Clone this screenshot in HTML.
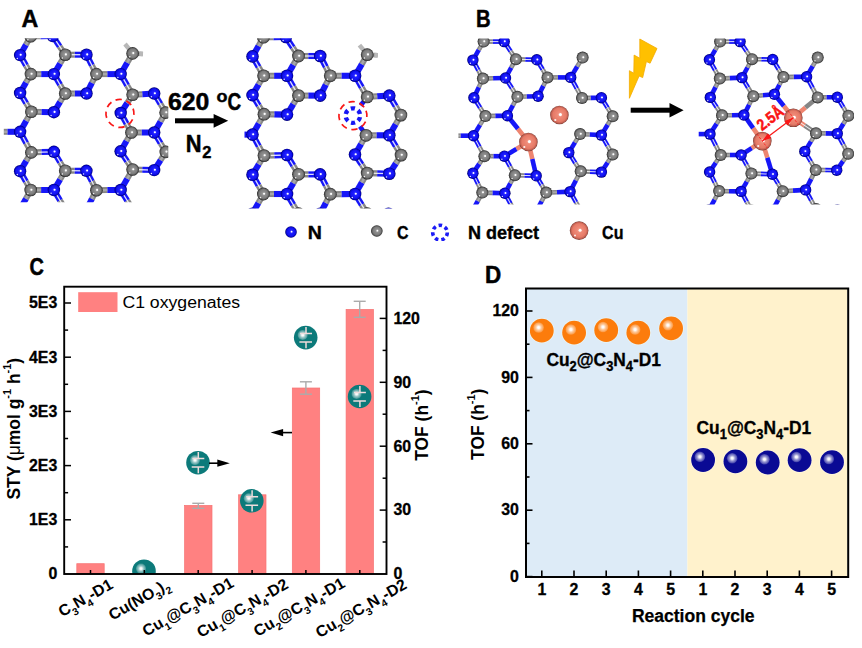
<!DOCTYPE html>
<html lang="en"><head><meta charset="utf-8"><title>Figure</title>
<style>
html,body{margin:0;padding:0;background:#fff;}
body{width:862px;height:648px;overflow:hidden;}
svg{display:block;font-family:"Liberation Sans",sans-serif;}
</style></head><body>
<svg width="862" height="648" viewBox="0 0 862 648">
<defs>

<radialGradient id="gN" cx="0.5" cy="0.5" r="0.5" fx="0.54" fy="0.47">
<stop offset="0" stop-color="#5a5aff"/><stop offset="0.3" stop-color="#2020ff"/><stop offset="0.7" stop-color="#1010f0"/><stop offset="0.88" stop-color="#0404b8"/><stop offset="1" stop-color="#000068"/>
</radialGradient>
<radialGradient id="gC" cx="0.5" cy="0.5" r="0.5" fx="0.54" fy="0.47">
<stop offset="0" stop-color="#b4b4b4"/><stop offset="0.3" stop-color="#8e8e8e"/><stop offset="0.68" stop-color="#7c7c7c"/><stop offset="0.86" stop-color="#565656"/><stop offset="1" stop-color="#1c1c1c"/>
</radialGradient>
<radialGradient id="gU" cx="0.5" cy="0.5" r="0.5" fx="0.54" fy="0.47">
<stop offset="0" stop-color="#f6a898"/><stop offset="0.3" stop-color="#ee8976"/><stop offset="0.72" stop-color="#e67a67"/><stop offset="0.9" stop-color="#be5e50"/><stop offset="1" stop-color="#70342c"/>
</radialGradient>
<filter id="soft" x="-5%" y="-5%" width="110%" height="110%"><feGaussianBlur stdDeviation="0.75"/></filter>
<filter id="softAll" x="0" y="0" width="862" height="648" filterUnits="userSpaceOnUse"><feGaussianBlur stdDeviation="0.35"/></filter>
<radialGradient id="hl" cx="0.5" cy="0.5" r="0.5">
<stop offset="0" stop-color="#fff" stop-opacity="1"/><stop offset="0.2" stop-color="#fff" stop-opacity="0.96"/><stop offset="0.5" stop-color="#fff" stop-opacity="0.6"/><stop offset="0.85" stop-color="#fff" stop-opacity="0.32"/><stop offset="1" stop-color="#fff" stop-opacity="0.2"/>
</radialGradient>
<radialGradient id="gT" cx="0.5" cy="0.5" r="0.5" fx="0.36" fy="0.36">
<stop offset="0" stop-color="#e8f4f4"/><stop offset="0.18" stop-color="#8fc4c4"/><stop offset="0.45" stop-color="#1f8a8a"/><stop offset="1" stop-color="#087070"/>
</radialGradient>
<radialGradient id="gO" cx="0.5" cy="0.5" r="0.5" fx="0.38" fy="0.34">
<stop offset="0" stop-color="#ffffff"/><stop offset="0.12" stop-color="#ffe0c0"/><stop offset="0.28" stop-color="#ff9a3c"/><stop offset="0.6" stop-color="#ff7f0e"/><stop offset="1" stop-color="#f07000"/>
</radialGradient>
<radialGradient id="gB" cx="0.5" cy="0.5" r="0.5" fx="0.38" fy="0.34">
<stop offset="0" stop-color="#ffffff"/><stop offset="0.12" stop-color="#c8c8f0"/><stop offset="0.3" stop-color="#4040b8"/><stop offset="0.6" stop-color="#10109c"/><stop offset="1" stop-color="#000080"/>
</radialGradient>
<filter id="soft2" x="-5%" y="-5%" width="110%" height="110%"><feGaussianBlur stdDeviation="0.3"/></filter>
</defs>
<rect width="862" height="648" fill="#fff"/>
<g>

<clipPath id="cp1"><rect x="3.8" y="38.2" width="164.5" height="164.1"/></clipPath>
<g clip-path="url(#cp1)"><g filter="url(#soft)">
<line x1="132.6" y1="53.4" x2="125.0" y2="44.0" stroke="#b8b8b8" stroke-width="4.4"/><line x1="132.6" y1="53.4" x2="142.79999999999998" y2="54.0" stroke="#9a9a9a" stroke-width="4.6"/><line x1="139.6" y1="53.8" x2="143.0" y2="54.0" stroke="#b8b8b8" stroke-width="4.6"/>
<g stroke-linecap="butt"><line x1="30.7" y1="36.3" x2="40.6" y2="36.2" stroke="#868686" stroke-width="6.0"/><line x1="52.8" y1="36.1" x2="40.6" y2="36.2" stroke="#1515f8" stroke-width="6.0"/><line x1="30.7" y1="36.3" x2="25.9" y2="44.8" stroke="#868686" stroke-width="6.0"/><line x1="20.1" y1="55.1" x2="25.9" y2="44.8" stroke="#1515f8" stroke-width="6.0"/><line x1="52.8" y1="36.1" x2="59.6" y2="46.3" stroke="#1515f8" stroke-width="6.0"/><line x1="65.2" y1="54.7" x2="59.6" y2="46.3" stroke="#868686" stroke-width="6.0"/><line x1="20.1" y1="55.1" x2="26.0" y2="65.5" stroke="#1515f8" stroke-width="6.0"/><line x1="30.9" y1="74.1" x2="26.0" y2="65.5" stroke="#868686" stroke-width="6.0"/><line x1="65.2" y1="54.7" x2="74.8" y2="54.7" stroke="#868686" stroke-width="6.0"/><line x1="86.5" y1="54.7" x2="74.8" y2="54.7" stroke="#1515f8" stroke-width="6.0"/><line x1="65.2" y1="54.7" x2="60.1" y2="63.4" stroke="#868686" stroke-width="6.0"/><line x1="53.9" y1="74.1" x2="60.1" y2="63.4" stroke="#1515f8" stroke-width="6.0"/><line x1="86.5" y1="54.7" x2="91.9" y2="65.4" stroke="#1515f8" stroke-width="6.0"/><line x1="96.4" y1="74.1" x2="91.9" y2="65.4" stroke="#868686" stroke-width="6.0"/><line x1="132.6" y1="53.4" x2="127.2" y2="62.7" stroke="#868686" stroke-width="6.0"/><line x1="120.7" y1="74.1" x2="127.2" y2="62.7" stroke="#1515f8" stroke-width="6.0"/><line x1="30.9" y1="74.1" x2="41.2" y2="74.1" stroke="#868686" stroke-width="6.0"/><line x1="53.9" y1="74.1" x2="41.2" y2="74.1" stroke="#1515f8" stroke-width="6.0"/><line x1="30.9" y1="74.1" x2="26.0" y2="82.6" stroke="#868686" stroke-width="6.0"/><line x1="20.1" y1="93.0" x2="26.0" y2="82.6" stroke="#1515f8" stroke-width="6.0"/><line x1="53.9" y1="74.1" x2="60.1" y2="84.8" stroke="#1515f8" stroke-width="6.0"/><line x1="65.2" y1="93.5" x2="60.1" y2="84.8" stroke="#868686" stroke-width="6.0"/><line x1="96.4" y1="74.1" x2="107.3" y2="74.1" stroke="#868686" stroke-width="6.0"/><line x1="120.7" y1="74.1" x2="107.3" y2="74.1" stroke="#1515f8" stroke-width="6.0"/><line x1="96.4" y1="74.1" x2="91.9" y2="82.8" stroke="#868686" stroke-width="6.0"/><line x1="86.5" y1="93.5" x2="91.9" y2="82.8" stroke="#1515f8" stroke-width="6.0"/><line x1="120.7" y1="74.1" x2="127.2" y2="85.5" stroke="#1515f8" stroke-width="6.0"/><line x1="132.6" y1="94.8" x2="127.2" y2="85.5" stroke="#868686" stroke-width="6.0"/><line x1="20.1" y1="93.0" x2="26.2" y2="103.3" stroke="#1515f8" stroke-width="6.0"/><line x1="31.3" y1="111.8" x2="26.2" y2="103.3" stroke="#868686" stroke-width="6.0"/><line x1="65.2" y1="93.5" x2="74.8" y2="93.5" stroke="#868686" stroke-width="6.0"/><line x1="86.5" y1="93.5" x2="74.8" y2="93.5" stroke="#1515f8" stroke-width="6.0"/><line x1="65.2" y1="93.5" x2="60.1" y2="101.9" stroke="#868686" stroke-width="6.0"/><line x1="53.9" y1="112.2" x2="60.1" y2="101.9" stroke="#1515f8" stroke-width="6.0"/><line x1="132.6" y1="94.8" x2="142.3" y2="94.2" stroke="#868686" stroke-width="6.0"/><line x1="154.2" y1="93.5" x2="142.3" y2="94.2" stroke="#1515f8" stroke-width="6.0"/><line x1="132.6" y1="94.8" x2="127.2" y2="103.0" stroke="#868686" stroke-width="6.0"/><line x1="120.7" y1="113.0" x2="127.2" y2="103.0" stroke="#1515f8" stroke-width="6.0"/><line x1="154.2" y1="93.5" x2="160.5" y2="104.0" stroke="#1515f8" stroke-width="6.0"/><line x1="165.6" y1="112.6" x2="160.5" y2="104.0" stroke="#868686" stroke-width="6.0"/><line x1="31.3" y1="111.8" x2="41.5" y2="112.0" stroke="#868686" stroke-width="6.0"/><line x1="53.9" y1="112.2" x2="41.5" y2="112.0" stroke="#1515f8" stroke-width="6.0"/><line x1="31.3" y1="111.8" x2="26.2" y2="120.8" stroke="#868686" stroke-width="6.0"/><line x1="20.1" y1="131.8" x2="26.2" y2="120.8" stroke="#1515f8" stroke-width="6.0"/><line x1="120.7" y1="113.0" x2="126.6" y2="123.7" stroke="#1515f8" stroke-width="6.0"/><line x1="131.4" y1="132.5" x2="126.6" y2="123.7" stroke="#868686" stroke-width="6.0"/><line x1="165.6" y1="112.6" x2="160.5" y2="121.6" stroke="#868686" stroke-width="6.0"/><line x1="154.2" y1="132.5" x2="160.5" y2="121.6" stroke="#1515f8" stroke-width="6.0"/><line x1="-3.0" y1="131.8" x2="7.4" y2="131.8" stroke="#868686" stroke-width="6.0"/><line x1="20.1" y1="131.8" x2="7.4" y2="131.8" stroke="#1515f8" stroke-width="6.0"/><line x1="20.1" y1="131.8" x2="26.2" y2="143.1" stroke="#1515f8" stroke-width="6.0"/><line x1="31.3" y1="152.4" x2="26.2" y2="143.1" stroke="#868686" stroke-width="6.0"/><line x1="131.4" y1="132.5" x2="141.7" y2="132.5" stroke="#868686" stroke-width="6.0"/><line x1="154.2" y1="132.5" x2="141.7" y2="132.5" stroke="#1515f8" stroke-width="6.0"/><line x1="131.4" y1="132.5" x2="126.5" y2="141.0" stroke="#868686" stroke-width="6.0"/><line x1="120.6" y1="151.3" x2="126.5" y2="141.0" stroke="#1515f8" stroke-width="6.0"/><line x1="154.2" y1="132.5" x2="160.6" y2="143.2" stroke="#1515f8" stroke-width="6.0"/><line x1="165.8" y1="151.9" x2="160.6" y2="143.2" stroke="#868686" stroke-width="6.0"/><line x1="31.3" y1="152.4" x2="41.5" y2="152.1" stroke="#868686" stroke-width="6.0"/><line x1="53.9" y1="151.8" x2="41.5" y2="152.1" stroke="#1515f8" stroke-width="6.0"/><line x1="31.3" y1="152.4" x2="26.2" y2="160.9" stroke="#868686" stroke-width="6.0"/><line x1="20.1" y1="171.2" x2="26.2" y2="160.9" stroke="#1515f8" stroke-width="6.0"/><line x1="53.9" y1="151.8" x2="60.1" y2="162.2" stroke="#1515f8" stroke-width="6.0"/><line x1="65.2" y1="170.7" x2="60.1" y2="162.2" stroke="#868686" stroke-width="6.0"/><line x1="120.6" y1="151.3" x2="127.2" y2="161.3" stroke="#1515f8" stroke-width="6.0"/><line x1="132.6" y1="169.5" x2="127.2" y2="161.3" stroke="#868686" stroke-width="6.0"/><line x1="165.8" y1="151.9" x2="160.6" y2="160.1" stroke="#868686" stroke-width="6.0"/><line x1="154.2" y1="170.1" x2="160.6" y2="160.1" stroke="#1515f8" stroke-width="6.0"/><line x1="20.1" y1="171.2" x2="25.9" y2="181.5" stroke="#1515f8" stroke-width="6.0"/><line x1="30.7" y1="190.0" x2="25.9" y2="181.5" stroke="#868686" stroke-width="6.0"/><line x1="65.2" y1="170.7" x2="74.7" y2="170.7" stroke="#868686" stroke-width="6.0"/><line x1="86.4" y1="170.8" x2="74.7" y2="170.7" stroke="#1515f8" stroke-width="6.0"/><line x1="65.2" y1="170.7" x2="60.1" y2="179.4" stroke="#868686" stroke-width="6.0"/><line x1="53.9" y1="190.0" x2="60.1" y2="179.4" stroke="#1515f8" stroke-width="6.0"/><line x1="86.4" y1="170.8" x2="91.9" y2="181.5" stroke="#1515f8" stroke-width="6.0"/><line x1="96.4" y1="190.2" x2="91.9" y2="181.5" stroke="#868686" stroke-width="6.0"/><line x1="132.6" y1="169.5" x2="142.3" y2="169.8" stroke="#868686" stroke-width="6.0"/><line x1="154.2" y1="170.1" x2="142.3" y2="169.8" stroke="#1515f8" stroke-width="6.0"/><line x1="132.6" y1="169.5" x2="127.2" y2="178.7" stroke="#868686" stroke-width="6.0"/><line x1="120.7" y1="190.0" x2="127.2" y2="178.7" stroke="#1515f8" stroke-width="6.0"/><line x1="30.7" y1="190.0" x2="41.1" y2="190.0" stroke="#868686" stroke-width="6.0"/><line x1="53.9" y1="190.0" x2="41.1" y2="190.0" stroke="#1515f8" stroke-width="6.0"/><line x1="30.7" y1="190.0" x2="25.9" y2="198.7" stroke="#868686" stroke-width="6.0"/><line x1="20.0" y1="209.3" x2="25.9" y2="198.7" stroke="#1515f8" stroke-width="6.0"/><line x1="53.9" y1="190.0" x2="60.1" y2="200.6" stroke="#1515f8" stroke-width="6.0"/><line x1="65.2" y1="209.3" x2="60.1" y2="200.6" stroke="#868686" stroke-width="6.0"/><line x1="96.4" y1="190.2" x2="107.3" y2="190.1" stroke="#868686" stroke-width="6.0"/><line x1="120.7" y1="190.0" x2="107.3" y2="190.1" stroke="#1515f8" stroke-width="6.0"/><line x1="96.4" y1="190.2" x2="91.9" y2="198.8" stroke="#868686" stroke-width="6.0"/><line x1="86.5" y1="209.3" x2="91.9" y2="198.8" stroke="#1515f8" stroke-width="6.0"/><line x1="120.7" y1="190.0" x2="127.2" y2="200.6" stroke="#1515f8" stroke-width="6.0"/><line x1="132.6" y1="209.3" x2="127.2" y2="200.6" stroke="#868686" stroke-width="6.0"/><line x1="65.2" y1="209.3" x2="74.8" y2="209.3" stroke="#868686" stroke-width="6.0"/><line x1="86.5" y1="209.3" x2="74.8" y2="209.3" stroke="#1515f8" stroke-width="6.0"/><line x1="132.6" y1="209.3" x2="142.0" y2="209.3" stroke="#868686" stroke-width="6.0"/><line x1="153.4" y1="209.3" x2="142.0" y2="209.3" stroke="#1515f8" stroke-width="6.0"/><line x1="30.7" y1="36.3" x2="40.6" y2="36.2" stroke="#a8a8a8" stroke-width="2.40"/><line x1="30.7" y1="36.3" x2="25.9" y2="44.8" stroke="#a8a8a8" stroke-width="2.40"/><line x1="65.2" y1="54.7" x2="60.1" y2="63.4" stroke="#a8a8a8" stroke-width="2.40"/><line x1="132.6" y1="53.4" x2="127.2" y2="62.7" stroke="#a8a8a8" stroke-width="2.40"/><line x1="30.9" y1="74.1" x2="41.2" y2="74.1" stroke="#a8a8a8" stroke-width="2.40"/><line x1="30.9" y1="74.1" x2="26.0" y2="82.6" stroke="#a8a8a8" stroke-width="2.40"/><line x1="96.4" y1="74.1" x2="107.3" y2="74.1" stroke="#a8a8a8" stroke-width="2.40"/><line x1="96.4" y1="74.1" x2="91.9" y2="82.8" stroke="#a8a8a8" stroke-width="2.40"/><line x1="65.2" y1="93.5" x2="74.8" y2="93.5" stroke="#a8a8a8" stroke-width="2.40"/><line x1="65.2" y1="93.5" x2="60.1" y2="101.9" stroke="#a8a8a8" stroke-width="2.40"/><line x1="132.6" y1="94.8" x2="142.3" y2="94.2" stroke="#a8a8a8" stroke-width="2.40"/><line x1="132.6" y1="94.8" x2="127.2" y2="103.0" stroke="#a8a8a8" stroke-width="2.40"/><line x1="31.3" y1="111.8" x2="41.5" y2="112.0" stroke="#a8a8a8" stroke-width="2.40"/><line x1="31.3" y1="111.8" x2="26.2" y2="120.8" stroke="#a8a8a8" stroke-width="2.40"/><line x1="165.6" y1="112.6" x2="160.5" y2="121.6" stroke="#a8a8a8" stroke-width="2.40"/><line x1="-3.0" y1="131.8" x2="7.4" y2="131.8" stroke="#a8a8a8" stroke-width="2.40"/><line x1="131.4" y1="132.5" x2="141.7" y2="132.5" stroke="#a8a8a8" stroke-width="2.40"/><line x1="131.4" y1="132.5" x2="126.5" y2="141.0" stroke="#a8a8a8" stroke-width="2.40"/><line x1="31.3" y1="152.4" x2="26.2" y2="160.9" stroke="#a8a8a8" stroke-width="2.40"/><line x1="165.8" y1="151.9" x2="160.6" y2="160.1" stroke="#a8a8a8" stroke-width="2.40"/><line x1="65.2" y1="170.7" x2="60.1" y2="179.4" stroke="#a8a8a8" stroke-width="2.40"/><line x1="132.6" y1="169.5" x2="127.2" y2="178.7" stroke="#a8a8a8" stroke-width="2.40"/><line x1="30.7" y1="190.0" x2="41.1" y2="190.0" stroke="#a8a8a8" stroke-width="2.40"/><line x1="30.7" y1="190.0" x2="25.9" y2="198.7" stroke="#a8a8a8" stroke-width="2.40"/><line x1="96.4" y1="190.2" x2="107.3" y2="190.1" stroke="#a8a8a8" stroke-width="2.40"/><line x1="96.4" y1="190.2" x2="91.9" y2="198.8" stroke="#a8a8a8" stroke-width="2.40"/><line x1="65.2" y1="209.3" x2="74.8" y2="209.3" stroke="#a8a8a8" stroke-width="2.40"/><line x1="132.6" y1="209.3" x2="142.0" y2="209.3" stroke="#a8a8a8" stroke-width="2.40"/><line x1="52.8" y1="36.1" x2="65.2" y2="54.7" stroke="#fff" stroke-width="1.32" opacity="0.85"/><line x1="20.1" y1="55.1" x2="30.9" y2="74.1" stroke="#fff" stroke-width="1.32" opacity="0.85"/><line x1="65.2" y1="54.7" x2="86.5" y2="54.7" stroke="#fff" stroke-width="1.32" opacity="0.85"/><line x1="86.5" y1="54.7" x2="96.4" y2="74.1" stroke="#fff" stroke-width="1.32" opacity="0.85"/><line x1="53.9" y1="74.1" x2="65.2" y2="93.5" stroke="#fff" stroke-width="1.32" opacity="0.85"/><line x1="120.7" y1="74.1" x2="132.6" y2="94.8" stroke="#fff" stroke-width="1.32" opacity="0.85"/><line x1="20.1" y1="93.0" x2="31.3" y2="111.8" stroke="#fff" stroke-width="1.32" opacity="0.85"/><line x1="154.2" y1="93.5" x2="165.6" y2="112.6" stroke="#fff" stroke-width="1.32" opacity="0.85"/><line x1="120.7" y1="113.0" x2="131.4" y2="132.5" stroke="#fff" stroke-width="1.32" opacity="0.85"/><line x1="20.1" y1="131.8" x2="31.3" y2="152.4" stroke="#fff" stroke-width="1.32" opacity="0.85"/><line x1="154.2" y1="132.5" x2="165.8" y2="151.9" stroke="#fff" stroke-width="1.32" opacity="0.85"/><line x1="31.3" y1="152.4" x2="53.9" y2="151.8" stroke="#fff" stroke-width="1.32" opacity="0.85"/><line x1="53.9" y1="151.8" x2="65.2" y2="170.7" stroke="#fff" stroke-width="1.32" opacity="0.85"/><line x1="120.6" y1="151.3" x2="132.6" y2="169.5" stroke="#fff" stroke-width="1.32" opacity="0.85"/><line x1="20.1" y1="171.2" x2="30.7" y2="190.0" stroke="#fff" stroke-width="1.32" opacity="0.85"/><line x1="65.2" y1="170.7" x2="86.4" y2="170.8" stroke="#fff" stroke-width="1.32" opacity="0.85"/><line x1="86.4" y1="170.8" x2="96.4" y2="190.2" stroke="#fff" stroke-width="1.32" opacity="0.85"/><line x1="132.6" y1="169.5" x2="154.2" y2="170.1" stroke="#fff" stroke-width="1.32" opacity="0.85"/><line x1="53.9" y1="190.0" x2="65.2" y2="209.3" stroke="#fff" stroke-width="1.32" opacity="0.85"/><line x1="120.7" y1="190.0" x2="132.6" y2="209.3" stroke="#fff" stroke-width="1.32" opacity="0.85"/></g>

<circle cx="30.7" cy="36.3" r="6.3" fill="url(#gC)"/>
<circle cx="31.4" cy="36.0" r="1.05" fill="#fff"/>
<circle cx="27.9" cy="39.7" r="0.75" fill="#fff" opacity="0.9"/>
<circle cx="52.8" cy="36.1" r="6.2" fill="url(#gN)"/>
<circle cx="53.5" cy="35.8" r="1.03" fill="#fff"/>
<circle cx="50.0" cy="39.4" r="0.74" fill="#fff" opacity="0.9"/>
<circle cx="20.1" cy="55.1" r="6.2" fill="url(#gN)"/>
<circle cx="20.7" cy="54.8" r="1.03" fill="#fff"/>
<circle cx="17.3" cy="58.4" r="0.74" fill="#fff" opacity="0.9"/>
<circle cx="65.2" cy="54.7" r="6.3" fill="url(#gC)"/>
<circle cx="65.9" cy="54.4" r="1.05" fill="#fff"/>
<circle cx="62.4" cy="58.1" r="0.75" fill="#fff" opacity="0.9"/>
<circle cx="86.5" cy="54.7" r="6.2" fill="url(#gN)"/>
<circle cx="87.2" cy="54.4" r="1.03" fill="#fff"/>
<circle cx="83.7" cy="58.0" r="0.74" fill="#fff" opacity="0.9"/>
<circle cx="132.6" cy="53.4" r="6.3" fill="url(#gC)"/>
<circle cx="133.3" cy="53.1" r="1.05" fill="#fff"/>
<circle cx="129.8" cy="56.8" r="0.75" fill="#fff" opacity="0.9"/>
<circle cx="30.9" cy="74.1" r="6.3" fill="url(#gC)"/>
<circle cx="31.6" cy="73.8" r="1.05" fill="#fff"/>
<circle cx="28.1" cy="77.5" r="0.75" fill="#fff" opacity="0.9"/>
<circle cx="53.9" cy="74.1" r="6.2" fill="url(#gN)"/>
<circle cx="54.6" cy="73.8" r="1.03" fill="#fff"/>
<circle cx="51.1" cy="77.4" r="0.74" fill="#fff" opacity="0.9"/>
<circle cx="96.4" cy="74.1" r="6.3" fill="url(#gC)"/>
<circle cx="97.1" cy="73.8" r="1.05" fill="#fff"/>
<circle cx="93.6" cy="77.5" r="0.75" fill="#fff" opacity="0.9"/>
<circle cx="120.7" cy="74.1" r="6.2" fill="url(#gN)"/>
<circle cx="121.4" cy="73.8" r="1.03" fill="#fff"/>
<circle cx="117.9" cy="77.4" r="0.74" fill="#fff" opacity="0.9"/>
<circle cx="20.1" cy="93.0" r="6.2" fill="url(#gN)"/>
<circle cx="20.7" cy="92.7" r="1.03" fill="#fff"/>
<circle cx="17.3" cy="96.3" r="0.74" fill="#fff" opacity="0.9"/>
<circle cx="65.2" cy="93.5" r="6.3" fill="url(#gC)"/>
<circle cx="65.9" cy="93.2" r="1.05" fill="#fff"/>
<circle cx="62.4" cy="96.9" r="0.75" fill="#fff" opacity="0.9"/>
<circle cx="86.5" cy="93.5" r="6.2" fill="url(#gN)"/>
<circle cx="87.2" cy="93.2" r="1.03" fill="#fff"/>
<circle cx="83.7" cy="96.8" r="0.74" fill="#fff" opacity="0.9"/>
<circle cx="132.6" cy="94.8" r="6.3" fill="url(#gC)"/>
<circle cx="133.3" cy="94.5" r="1.05" fill="#fff"/>
<circle cx="129.8" cy="98.2" r="0.75" fill="#fff" opacity="0.9"/>
<circle cx="154.2" cy="93.5" r="6.2" fill="url(#gN)"/>
<circle cx="154.9" cy="93.2" r="1.03" fill="#fff"/>
<circle cx="151.4" cy="96.8" r="0.74" fill="#fff" opacity="0.9"/>
<circle cx="31.3" cy="111.8" r="6.3" fill="url(#gC)"/>
<circle cx="32.0" cy="111.5" r="1.05" fill="#fff"/>
<circle cx="28.5" cy="115.2" r="0.75" fill="#fff" opacity="0.9"/>
<circle cx="53.9" cy="112.2" r="6.2" fill="url(#gN)"/>
<circle cx="54.6" cy="111.9" r="1.03" fill="#fff"/>
<circle cx="51.1" cy="115.5" r="0.74" fill="#fff" opacity="0.9"/>
<circle cx="120.7" cy="113.0" r="6.2" fill="url(#gN)"/>
<circle cx="121.4" cy="112.7" r="1.03" fill="#fff"/>
<circle cx="117.9" cy="116.3" r="0.74" fill="#fff" opacity="0.9"/>
<circle cx="165.6" cy="112.6" r="6.3" fill="url(#gC)"/>
<circle cx="166.3" cy="112.3" r="1.05" fill="#fff"/>
<circle cx="162.8" cy="116.0" r="0.75" fill="#fff" opacity="0.9"/>
<circle cx="-3.0" cy="131.8" r="6.3" fill="url(#gC)"/>
<circle cx="-2.3" cy="131.5" r="1.05" fill="#fff"/>
<circle cx="-5.8" cy="135.2" r="0.75" fill="#fff" opacity="0.9"/>
<circle cx="20.1" cy="131.8" r="6.2" fill="url(#gN)"/>
<circle cx="20.7" cy="131.5" r="1.03" fill="#fff"/>
<circle cx="17.3" cy="135.1" r="0.74" fill="#fff" opacity="0.9"/>
<circle cx="131.4" cy="132.5" r="6.3" fill="url(#gC)"/>
<circle cx="132.1" cy="132.2" r="1.05" fill="#fff"/>
<circle cx="128.6" cy="135.9" r="0.75" fill="#fff" opacity="0.9"/>
<circle cx="154.2" cy="132.5" r="6.2" fill="url(#gN)"/>
<circle cx="154.9" cy="132.2" r="1.03" fill="#fff"/>
<circle cx="151.4" cy="135.8" r="0.74" fill="#fff" opacity="0.9"/>
<circle cx="31.3" cy="152.4" r="6.3" fill="url(#gC)"/>
<circle cx="32.0" cy="152.1" r="1.05" fill="#fff"/>
<circle cx="28.5" cy="155.8" r="0.75" fill="#fff" opacity="0.9"/>
<circle cx="53.9" cy="151.8" r="6.2" fill="url(#gN)"/>
<circle cx="54.6" cy="151.5" r="1.03" fill="#fff"/>
<circle cx="51.1" cy="155.1" r="0.74" fill="#fff" opacity="0.9"/>
<circle cx="120.6" cy="151.3" r="6.2" fill="url(#gN)"/>
<circle cx="121.3" cy="151.0" r="1.03" fill="#fff"/>
<circle cx="117.8" cy="154.6" r="0.74" fill="#fff" opacity="0.9"/>
<circle cx="165.8" cy="151.9" r="6.3" fill="url(#gC)"/>
<circle cx="166.5" cy="151.6" r="1.05" fill="#fff"/>
<circle cx="163.0" cy="155.3" r="0.75" fill="#fff" opacity="0.9"/>
<circle cx="20.1" cy="171.2" r="6.2" fill="url(#gN)"/>
<circle cx="20.7" cy="170.9" r="1.03" fill="#fff"/>
<circle cx="17.3" cy="174.5" r="0.74" fill="#fff" opacity="0.9"/>
<circle cx="65.2" cy="170.7" r="6.3" fill="url(#gC)"/>
<circle cx="65.9" cy="170.4" r="1.05" fill="#fff"/>
<circle cx="62.4" cy="174.1" r="0.75" fill="#fff" opacity="0.9"/>
<circle cx="86.4" cy="170.8" r="6.2" fill="url(#gN)"/>
<circle cx="87.1" cy="170.5" r="1.03" fill="#fff"/>
<circle cx="83.6" cy="174.1" r="0.74" fill="#fff" opacity="0.9"/>
<circle cx="132.6" cy="169.5" r="6.3" fill="url(#gC)"/>
<circle cx="133.3" cy="169.2" r="1.05" fill="#fff"/>
<circle cx="129.8" cy="172.9" r="0.75" fill="#fff" opacity="0.9"/>
<circle cx="154.2" cy="170.1" r="6.2" fill="url(#gN)"/>
<circle cx="154.9" cy="169.8" r="1.03" fill="#fff"/>
<circle cx="151.4" cy="173.4" r="0.74" fill="#fff" opacity="0.9"/>
<circle cx="30.7" cy="190.0" r="6.3" fill="url(#gC)"/>
<circle cx="31.4" cy="189.7" r="1.05" fill="#fff"/>
<circle cx="27.9" cy="193.4" r="0.75" fill="#fff" opacity="0.9"/>
<circle cx="53.9" cy="190.0" r="6.2" fill="url(#gN)"/>
<circle cx="54.6" cy="189.7" r="1.03" fill="#fff"/>
<circle cx="51.1" cy="193.3" r="0.74" fill="#fff" opacity="0.9"/>
<circle cx="96.4" cy="190.2" r="6.3" fill="url(#gC)"/>
<circle cx="97.1" cy="189.9" r="1.05" fill="#fff"/>
<circle cx="93.6" cy="193.6" r="0.75" fill="#fff" opacity="0.9"/>
<circle cx="120.7" cy="190.0" r="6.2" fill="url(#gN)"/>
<circle cx="121.4" cy="189.7" r="1.03" fill="#fff"/>
<circle cx="117.9" cy="193.3" r="0.74" fill="#fff" opacity="0.9"/>
<circle cx="20.0" cy="209.3" r="6.2" fill="url(#gN)"/>
<circle cx="20.7" cy="209.0" r="1.03" fill="#fff"/>
<circle cx="17.2" cy="212.6" r="0.74" fill="#fff" opacity="0.9"/>
<circle cx="65.2" cy="209.3" r="6.3" fill="url(#gC)"/>
<circle cx="65.9" cy="209.0" r="1.05" fill="#fff"/>
<circle cx="62.4" cy="212.7" r="0.75" fill="#fff" opacity="0.9"/>
<circle cx="86.5" cy="209.3" r="6.2" fill="url(#gN)"/>
<circle cx="87.2" cy="209.0" r="1.03" fill="#fff"/>
<circle cx="83.7" cy="212.6" r="0.74" fill="#fff" opacity="0.9"/>
<circle cx="132.6" cy="209.3" r="6.3" fill="url(#gC)"/>
<circle cx="133.3" cy="209.0" r="1.05" fill="#fff"/>
<circle cx="129.8" cy="212.7" r="0.75" fill="#fff" opacity="0.9"/>
<circle cx="153.4" cy="209.3" r="6.2" fill="url(#gN)"/>
<circle cx="154.1" cy="209.0" r="1.03" fill="#fff"/>
<circle cx="150.6" cy="212.6" r="0.74" fill="#fff" opacity="0.9"/>
<circle cx="119.8" cy="113.4" r="14.0" fill="none" stroke="#f81818" stroke-width="1.7" stroke-dasharray="6.3 4.7" transform="rotate(-20 119.8 113)"/>
</g></g>
<clipPath id="cp2"><rect x="244.5" y="38.3" width="163.3" height="170.3"/></clipPath>
<g clip-path="url(#cp2)"><g filter="url(#soft)">
<line x1="367.24896" y1="54.668" x2="359.44896" y2="45.068" stroke="#b8b8b8" stroke-width="4.5"/><line x1="367.24896" y1="54.668" x2="377.64896" y2="55.268" stroke="#9a9a9a" stroke-width="4.7"/><line x1="374.44896" y1="55.068" x2="377.84896000000003" y2="55.268" stroke="#b8b8b8" stroke-width="4.7"/><line x1="367.2" y1="96.9" x2="360.7" y2="105.5" stroke="#1515f8" stroke-width="4.6"/><line x1="366.0" y1="135.3" x2="360.0" y2="126.4" stroke="#1515f8" stroke-width="4.6"/>
<g stroke-linecap="butt"><line x1="263.4" y1="37.2" x2="273.5" y2="37.1" stroke="#868686" stroke-width="6.1"/><line x1="285.9" y1="37.0" x2="273.5" y2="37.1" stroke="#1515f8" stroke-width="6.1"/><line x1="263.4" y1="37.2" x2="258.5" y2="45.9" stroke="#868686" stroke-width="6.1"/><line x1="252.5" y1="56.4" x2="258.5" y2="45.9" stroke="#1515f8" stroke-width="6.1"/><line x1="285.9" y1="37.0" x2="292.8" y2="47.5" stroke="#1515f8" stroke-width="6.1"/><line x1="298.5" y1="56.0" x2="292.8" y2="47.5" stroke="#868686" stroke-width="6.1"/><line x1="252.5" y1="56.4" x2="258.6" y2="67.1" stroke="#1515f8" stroke-width="6.1"/><line x1="263.6" y1="75.8" x2="258.6" y2="67.1" stroke="#868686" stroke-width="6.1"/><line x1="298.5" y1="56.0" x2="308.3" y2="56.0" stroke="#868686" stroke-width="6.1"/><line x1="320.2" y1="56.0" x2="308.3" y2="56.0" stroke="#1515f8" stroke-width="6.1"/><line x1="298.5" y1="56.0" x2="293.3" y2="64.9" stroke="#868686" stroke-width="6.1"/><line x1="287.0" y1="75.8" x2="293.3" y2="64.9" stroke="#1515f8" stroke-width="6.1"/><line x1="320.2" y1="56.0" x2="325.8" y2="66.9" stroke="#1515f8" stroke-width="6.1"/><line x1="330.3" y1="75.8" x2="325.8" y2="66.9" stroke="#868686" stroke-width="6.1"/><line x1="367.2" y1="54.7" x2="361.8" y2="64.2" stroke="#868686" stroke-width="6.1"/><line x1="355.1" y1="75.8" x2="361.8" y2="64.2" stroke="#1515f8" stroke-width="6.1"/><line x1="263.6" y1="75.8" x2="274.1" y2="75.8" stroke="#868686" stroke-width="6.1"/><line x1="287.0" y1="75.8" x2="274.1" y2="75.8" stroke="#1515f8" stroke-width="6.1"/><line x1="263.6" y1="75.8" x2="258.6" y2="84.5" stroke="#868686" stroke-width="6.1"/><line x1="252.5" y1="95.1" x2="258.6" y2="84.5" stroke="#1515f8" stroke-width="6.1"/><line x1="287.0" y1="75.8" x2="293.3" y2="86.7" stroke="#1515f8" stroke-width="6.1"/><line x1="298.5" y1="95.6" x2="293.3" y2="86.7" stroke="#868686" stroke-width="6.1"/><line x1="330.3" y1="75.8" x2="341.5" y2="75.8" stroke="#868686" stroke-width="6.1"/><line x1="355.1" y1="75.8" x2="341.5" y2="75.8" stroke="#1515f8" stroke-width="6.1"/><line x1="330.3" y1="75.8" x2="325.8" y2="84.7" stroke="#868686" stroke-width="6.1"/><line x1="320.2" y1="95.6" x2="325.8" y2="84.7" stroke="#1515f8" stroke-width="6.1"/><line x1="355.1" y1="75.8" x2="361.8" y2="87.4" stroke="#1515f8" stroke-width="6.1"/><line x1="367.2" y1="96.9" x2="361.8" y2="87.4" stroke="#868686" stroke-width="6.1"/><line x1="252.5" y1="95.1" x2="258.8" y2="105.6" stroke="#1515f8" stroke-width="6.1"/><line x1="264.0" y1="114.2" x2="258.8" y2="105.6" stroke="#868686" stroke-width="6.1"/><line x1="298.5" y1="95.6" x2="308.3" y2="95.6" stroke="#868686" stroke-width="6.1"/><line x1="320.2" y1="95.6" x2="308.3" y2="95.6" stroke="#1515f8" stroke-width="6.1"/><line x1="298.5" y1="95.6" x2="293.3" y2="104.2" stroke="#868686" stroke-width="6.1"/><line x1="287.0" y1="114.6" x2="293.3" y2="104.2" stroke="#1515f8" stroke-width="6.1"/><line x1="367.2" y1="96.9" x2="377.2" y2="96.3" stroke="#868686" stroke-width="6.1"/><line x1="389.3" y1="95.6" x2="377.2" y2="96.3" stroke="#1515f8" stroke-width="6.1"/><line x1="389.3" y1="95.6" x2="395.7" y2="106.3" stroke="#1515f8" stroke-width="6.1"/><line x1="400.9" y1="115.1" x2="395.7" y2="106.3" stroke="#868686" stroke-width="6.1"/><line x1="264.0" y1="114.2" x2="274.3" y2="114.4" stroke="#868686" stroke-width="6.1"/><line x1="287.0" y1="114.6" x2="274.3" y2="114.4" stroke="#1515f8" stroke-width="6.1"/><line x1="264.0" y1="114.2" x2="258.8" y2="123.4" stroke="#868686" stroke-width="6.1"/><line x1="252.5" y1="134.6" x2="258.8" y2="123.4" stroke="#1515f8" stroke-width="6.1"/><line x1="400.9" y1="115.1" x2="395.7" y2="124.2" stroke="#868686" stroke-width="6.1"/><line x1="389.3" y1="135.3" x2="395.7" y2="124.2" stroke="#1515f8" stroke-width="6.1"/><line x1="229.0" y1="134.6" x2="239.6" y2="134.6" stroke="#868686" stroke-width="6.1"/><line x1="252.5" y1="134.6" x2="239.6" y2="134.6" stroke="#1515f8" stroke-width="6.1"/><line x1="252.5" y1="134.6" x2="258.8" y2="146.2" stroke="#1515f8" stroke-width="6.1"/><line x1="264.0" y1="155.6" x2="258.8" y2="146.2" stroke="#868686" stroke-width="6.1"/><line x1="366.0" y1="135.3" x2="376.5" y2="135.3" stroke="#868686" stroke-width="6.1"/><line x1="389.3" y1="135.3" x2="376.5" y2="135.3" stroke="#1515f8" stroke-width="6.1"/><line x1="366.0" y1="135.3" x2="361.1" y2="144.0" stroke="#868686" stroke-width="6.1"/><line x1="355.0" y1="154.5" x2="361.1" y2="144.0" stroke="#1515f8" stroke-width="6.1"/><line x1="389.3" y1="135.3" x2="395.8" y2="146.2" stroke="#1515f8" stroke-width="6.1"/><line x1="401.1" y1="155.1" x2="395.8" y2="146.2" stroke="#868686" stroke-width="6.1"/><line x1="264.0" y1="155.6" x2="274.3" y2="155.4" stroke="#868686" stroke-width="6.1"/><line x1="287.0" y1="155.0" x2="274.3" y2="155.4" stroke="#1515f8" stroke-width="6.1"/><line x1="264.0" y1="155.6" x2="258.8" y2="164.3" stroke="#868686" stroke-width="6.1"/><line x1="252.5" y1="174.8" x2="258.8" y2="164.3" stroke="#1515f8" stroke-width="6.1"/><line x1="287.0" y1="155.0" x2="293.3" y2="165.6" stroke="#1515f8" stroke-width="6.1"/><line x1="298.5" y1="174.3" x2="293.3" y2="165.6" stroke="#868686" stroke-width="6.1"/><line x1="355.0" y1="154.5" x2="361.7" y2="164.7" stroke="#1515f8" stroke-width="6.1"/><line x1="367.2" y1="173.1" x2="361.7" y2="164.7" stroke="#868686" stroke-width="6.1"/><line x1="401.1" y1="155.1" x2="395.8" y2="163.5" stroke="#868686" stroke-width="6.1"/><line x1="389.3" y1="173.7" x2="395.8" y2="163.5" stroke="#1515f8" stroke-width="6.1"/><line x1="252.5" y1="174.8" x2="258.5" y2="185.4" stroke="#1515f8" stroke-width="6.1"/><line x1="263.4" y1="194.0" x2="258.5" y2="185.4" stroke="#868686" stroke-width="6.1"/><line x1="298.5" y1="174.3" x2="308.3" y2="174.4" stroke="#868686" stroke-width="6.1"/><line x1="320.1" y1="174.4" x2="308.3" y2="174.4" stroke="#1515f8" stroke-width="6.1"/><line x1="298.5" y1="174.3" x2="293.3" y2="183.2" stroke="#868686" stroke-width="6.1"/><line x1="287.0" y1="194.0" x2="293.3" y2="183.2" stroke="#1515f8" stroke-width="6.1"/><line x1="320.1" y1="174.4" x2="325.8" y2="185.3" stroke="#1515f8" stroke-width="6.1"/><line x1="330.3" y1="194.2" x2="325.8" y2="185.3" stroke="#868686" stroke-width="6.1"/><line x1="367.2" y1="173.1" x2="377.2" y2="173.4" stroke="#868686" stroke-width="6.1"/><line x1="389.3" y1="173.7" x2="377.2" y2="173.4" stroke="#1515f8" stroke-width="6.1"/><line x1="367.2" y1="173.1" x2="361.8" y2="182.5" stroke="#868686" stroke-width="6.1"/><line x1="355.1" y1="194.0" x2="361.8" y2="182.5" stroke="#1515f8" stroke-width="6.1"/><line x1="263.4" y1="194.0" x2="274.0" y2="194.0" stroke="#868686" stroke-width="6.1"/><line x1="287.0" y1="194.0" x2="274.0" y2="194.0" stroke="#1515f8" stroke-width="6.1"/><line x1="263.4" y1="194.0" x2="258.4" y2="202.9" stroke="#868686" stroke-width="6.1"/><line x1="252.4" y1="213.7" x2="258.4" y2="202.9" stroke="#1515f8" stroke-width="6.1"/><line x1="287.0" y1="194.0" x2="293.3" y2="204.8" stroke="#1515f8" stroke-width="6.1"/><line x1="298.5" y1="213.7" x2="293.3" y2="204.8" stroke="#868686" stroke-width="6.1"/><line x1="330.3" y1="194.2" x2="341.5" y2="194.1" stroke="#868686" stroke-width="6.1"/><line x1="355.1" y1="194.0" x2="341.5" y2="194.1" stroke="#1515f8" stroke-width="6.1"/><line x1="330.3" y1="194.2" x2="325.8" y2="203.0" stroke="#868686" stroke-width="6.1"/><line x1="320.2" y1="213.7" x2="325.8" y2="203.0" stroke="#1515f8" stroke-width="6.1"/><line x1="355.1" y1="194.0" x2="361.8" y2="204.8" stroke="#1515f8" stroke-width="6.1"/><line x1="367.2" y1="213.7" x2="361.8" y2="204.8" stroke="#868686" stroke-width="6.1"/><line x1="298.5" y1="213.7" x2="308.3" y2="213.7" stroke="#868686" stroke-width="6.1"/><line x1="320.2" y1="213.7" x2="308.3" y2="213.7" stroke="#1515f8" stroke-width="6.1"/><line x1="367.2" y1="213.7" x2="376.8" y2="213.7" stroke="#868686" stroke-width="6.1"/><line x1="388.5" y1="213.7" x2="376.8" y2="213.7" stroke="#1515f8" stroke-width="6.1"/><line x1="263.4" y1="37.2" x2="273.5" y2="37.1" stroke="#a8a8a8" stroke-width="2.44"/><line x1="263.4" y1="37.2" x2="258.5" y2="45.9" stroke="#a8a8a8" stroke-width="2.44"/><line x1="298.5" y1="56.0" x2="293.3" y2="64.9" stroke="#a8a8a8" stroke-width="2.44"/><line x1="367.2" y1="54.7" x2="361.8" y2="64.2" stroke="#a8a8a8" stroke-width="2.44"/><line x1="263.6" y1="75.8" x2="274.1" y2="75.8" stroke="#a8a8a8" stroke-width="2.44"/><line x1="263.6" y1="75.8" x2="258.6" y2="84.5" stroke="#a8a8a8" stroke-width="2.44"/><line x1="330.3" y1="75.8" x2="341.5" y2="75.8" stroke="#a8a8a8" stroke-width="2.44"/><line x1="330.3" y1="75.8" x2="325.8" y2="84.7" stroke="#a8a8a8" stroke-width="2.44"/><line x1="298.5" y1="95.6" x2="308.3" y2="95.6" stroke="#a8a8a8" stroke-width="2.44"/><line x1="298.5" y1="95.6" x2="293.3" y2="104.2" stroke="#a8a8a8" stroke-width="2.44"/><line x1="367.2" y1="96.9" x2="377.2" y2="96.3" stroke="#a8a8a8" stroke-width="2.44"/><line x1="264.0" y1="114.2" x2="274.3" y2="114.4" stroke="#a8a8a8" stroke-width="2.44"/><line x1="264.0" y1="114.2" x2="258.8" y2="123.4" stroke="#a8a8a8" stroke-width="2.44"/><line x1="400.9" y1="115.1" x2="395.7" y2="124.2" stroke="#a8a8a8" stroke-width="2.44"/><line x1="229.0" y1="134.6" x2="239.6" y2="134.6" stroke="#a8a8a8" stroke-width="2.44"/><line x1="366.0" y1="135.3" x2="376.5" y2="135.3" stroke="#a8a8a8" stroke-width="2.44"/><line x1="366.0" y1="135.3" x2="361.1" y2="144.0" stroke="#a8a8a8" stroke-width="2.44"/><line x1="264.0" y1="155.6" x2="258.8" y2="164.3" stroke="#a8a8a8" stroke-width="2.44"/><line x1="401.1" y1="155.1" x2="395.8" y2="163.5" stroke="#a8a8a8" stroke-width="2.44"/><line x1="298.5" y1="174.3" x2="293.3" y2="183.2" stroke="#a8a8a8" stroke-width="2.44"/><line x1="367.2" y1="173.1" x2="361.8" y2="182.5" stroke="#a8a8a8" stroke-width="2.44"/><line x1="263.4" y1="194.0" x2="274.0" y2="194.0" stroke="#a8a8a8" stroke-width="2.44"/><line x1="263.4" y1="194.0" x2="258.4" y2="202.9" stroke="#a8a8a8" stroke-width="2.44"/><line x1="330.3" y1="194.2" x2="341.5" y2="194.1" stroke="#a8a8a8" stroke-width="2.44"/><line x1="330.3" y1="194.2" x2="325.8" y2="203.0" stroke="#a8a8a8" stroke-width="2.44"/><line x1="298.5" y1="213.7" x2="308.3" y2="213.7" stroke="#a8a8a8" stroke-width="2.44"/><line x1="367.2" y1="213.7" x2="376.8" y2="213.7" stroke="#a8a8a8" stroke-width="2.44"/><line x1="285.9" y1="37.0" x2="298.5" y2="56.0" stroke="#fff" stroke-width="1.34" opacity="0.85"/><line x1="252.5" y1="56.4" x2="263.6" y2="75.8" stroke="#fff" stroke-width="1.34" opacity="0.85"/><line x1="298.5" y1="56.0" x2="320.2" y2="56.0" stroke="#fff" stroke-width="1.34" opacity="0.85"/><line x1="320.2" y1="56.0" x2="330.3" y2="75.8" stroke="#fff" stroke-width="1.34" opacity="0.85"/><line x1="287.0" y1="75.8" x2="298.5" y2="95.6" stroke="#fff" stroke-width="1.34" opacity="0.85"/><line x1="355.1" y1="75.8" x2="367.2" y2="96.9" stroke="#fff" stroke-width="1.34" opacity="0.85"/><line x1="252.5" y1="95.1" x2="264.0" y2="114.2" stroke="#fff" stroke-width="1.34" opacity="0.85"/><line x1="389.3" y1="95.6" x2="400.9" y2="115.1" stroke="#fff" stroke-width="1.34" opacity="0.85"/><line x1="252.5" y1="134.6" x2="264.0" y2="155.6" stroke="#fff" stroke-width="1.34" opacity="0.85"/><line x1="389.3" y1="135.3" x2="401.1" y2="155.1" stroke="#fff" stroke-width="1.34" opacity="0.85"/><line x1="264.0" y1="155.6" x2="287.0" y2="155.0" stroke="#fff" stroke-width="1.34" opacity="0.85"/><line x1="287.0" y1="155.0" x2="298.5" y2="174.3" stroke="#fff" stroke-width="1.34" opacity="0.85"/><line x1="355.0" y1="154.5" x2="367.2" y2="173.1" stroke="#fff" stroke-width="1.34" opacity="0.85"/><line x1="252.5" y1="174.8" x2="263.4" y2="194.0" stroke="#fff" stroke-width="1.34" opacity="0.85"/><line x1="298.5" y1="174.3" x2="320.1" y2="174.4" stroke="#fff" stroke-width="1.34" opacity="0.85"/><line x1="320.1" y1="174.4" x2="330.3" y2="194.2" stroke="#fff" stroke-width="1.34" opacity="0.85"/><line x1="367.2" y1="173.1" x2="389.3" y2="173.7" stroke="#fff" stroke-width="1.34" opacity="0.85"/><line x1="287.0" y1="194.0" x2="298.5" y2="213.7" stroke="#fff" stroke-width="1.34" opacity="0.85"/><line x1="355.1" y1="194.0" x2="367.2" y2="213.7" stroke="#fff" stroke-width="1.34" opacity="0.85"/></g>

<circle cx="263.4" cy="37.2" r="6.4" fill="url(#gC)"/>
<circle cx="264.1" cy="36.9" r="1.07" fill="#fff"/>
<circle cx="260.5" cy="40.7" r="0.76" fill="#fff" opacity="0.9"/>
<circle cx="285.9" cy="37.0" r="6.3" fill="url(#gN)"/>
<circle cx="286.6" cy="36.7" r="1.05" fill="#fff"/>
<circle cx="283.1" cy="40.4" r="0.75" fill="#fff" opacity="0.9"/>
<circle cx="252.5" cy="56.4" r="6.3" fill="url(#gN)"/>
<circle cx="253.2" cy="56.1" r="1.05" fill="#fff"/>
<circle cx="249.7" cy="59.8" r="0.75" fill="#fff" opacity="0.9"/>
<circle cx="298.5" cy="56.0" r="6.4" fill="url(#gC)"/>
<circle cx="299.2" cy="55.7" r="1.07" fill="#fff"/>
<circle cx="295.7" cy="59.4" r="0.76" fill="#fff" opacity="0.9"/>
<circle cx="320.2" cy="56.0" r="6.3" fill="url(#gN)"/>
<circle cx="320.9" cy="55.7" r="1.05" fill="#fff"/>
<circle cx="317.4" cy="59.4" r="0.75" fill="#fff" opacity="0.9"/>
<circle cx="367.2" cy="54.7" r="6.4" fill="url(#gC)"/>
<circle cx="368.0" cy="54.4" r="1.07" fill="#fff"/>
<circle cx="364.4" cy="58.1" r="0.76" fill="#fff" opacity="0.9"/>
<circle cx="263.6" cy="75.8" r="6.4" fill="url(#gC)"/>
<circle cx="264.3" cy="75.5" r="1.07" fill="#fff"/>
<circle cx="260.7" cy="79.2" r="0.76" fill="#fff" opacity="0.9"/>
<circle cx="287.0" cy="75.8" r="6.3" fill="url(#gN)"/>
<circle cx="287.7" cy="75.5" r="1.05" fill="#fff"/>
<circle cx="284.2" cy="79.2" r="0.75" fill="#fff" opacity="0.9"/>
<circle cx="330.3" cy="75.8" r="6.4" fill="url(#gC)"/>
<circle cx="331.1" cy="75.5" r="1.07" fill="#fff"/>
<circle cx="327.5" cy="79.2" r="0.76" fill="#fff" opacity="0.9"/>
<circle cx="355.1" cy="75.8" r="6.3" fill="url(#gN)"/>
<circle cx="355.8" cy="75.5" r="1.05" fill="#fff"/>
<circle cx="352.3" cy="79.2" r="0.75" fill="#fff" opacity="0.9"/>
<circle cx="252.5" cy="95.1" r="6.3" fill="url(#gN)"/>
<circle cx="253.2" cy="94.8" r="1.05" fill="#fff"/>
<circle cx="249.7" cy="98.5" r="0.75" fill="#fff" opacity="0.9"/>
<circle cx="298.5" cy="95.6" r="6.4" fill="url(#gC)"/>
<circle cx="299.2" cy="95.3" r="1.07" fill="#fff"/>
<circle cx="295.7" cy="99.0" r="0.76" fill="#fff" opacity="0.9"/>
<circle cx="320.2" cy="95.6" r="6.3" fill="url(#gN)"/>
<circle cx="320.9" cy="95.3" r="1.05" fill="#fff"/>
<circle cx="317.4" cy="99.0" r="0.75" fill="#fff" opacity="0.9"/>
<circle cx="367.2" cy="96.9" r="6.4" fill="url(#gC)"/>
<circle cx="368.0" cy="96.6" r="1.07" fill="#fff"/>
<circle cx="364.4" cy="100.3" r="0.76" fill="#fff" opacity="0.9"/>
<circle cx="389.3" cy="95.6" r="6.3" fill="url(#gN)"/>
<circle cx="390.0" cy="95.3" r="1.05" fill="#fff"/>
<circle cx="386.5" cy="99.0" r="0.75" fill="#fff" opacity="0.9"/>
<circle cx="264.0" cy="114.2" r="6.4" fill="url(#gC)"/>
<circle cx="264.7" cy="113.9" r="1.07" fill="#fff"/>
<circle cx="261.1" cy="117.7" r="0.76" fill="#fff" opacity="0.9"/>
<circle cx="287.0" cy="114.6" r="6.3" fill="url(#gN)"/>
<circle cx="287.7" cy="114.3" r="1.05" fill="#fff"/>
<circle cx="284.2" cy="118.0" r="0.75" fill="#fff" opacity="0.9"/>
<circle cx="400.9" cy="115.1" r="6.4" fill="url(#gC)"/>
<circle cx="401.6" cy="114.7" r="1.07" fill="#fff"/>
<circle cx="398.1" cy="118.5" r="0.76" fill="#fff" opacity="0.9"/>
<circle cx="229.0" cy="134.6" r="6.4" fill="url(#gC)"/>
<circle cx="229.7" cy="134.3" r="1.07" fill="#fff"/>
<circle cx="226.1" cy="138.1" r="0.76" fill="#fff" opacity="0.9"/>
<circle cx="252.5" cy="134.6" r="6.3" fill="url(#gN)"/>
<circle cx="253.2" cy="134.3" r="1.05" fill="#fff"/>
<circle cx="249.7" cy="138.0" r="0.75" fill="#fff" opacity="0.9"/>
<circle cx="366.0" cy="135.3" r="6.4" fill="url(#gC)"/>
<circle cx="366.7" cy="135.0" r="1.07" fill="#fff"/>
<circle cx="363.2" cy="138.8" r="0.76" fill="#fff" opacity="0.9"/>
<circle cx="389.3" cy="135.3" r="6.3" fill="url(#gN)"/>
<circle cx="390.0" cy="135.0" r="1.05" fill="#fff"/>
<circle cx="386.5" cy="138.8" r="0.75" fill="#fff" opacity="0.9"/>
<circle cx="264.0" cy="155.6" r="6.4" fill="url(#gC)"/>
<circle cx="264.7" cy="155.3" r="1.07" fill="#fff"/>
<circle cx="261.1" cy="159.1" r="0.76" fill="#fff" opacity="0.9"/>
<circle cx="287.0" cy="155.0" r="6.3" fill="url(#gN)"/>
<circle cx="287.7" cy="154.7" r="1.05" fill="#fff"/>
<circle cx="284.2" cy="158.4" r="0.75" fill="#fff" opacity="0.9"/>
<circle cx="355.0" cy="154.5" r="6.3" fill="url(#gN)"/>
<circle cx="355.7" cy="154.2" r="1.05" fill="#fff"/>
<circle cx="352.2" cy="157.9" r="0.75" fill="#fff" opacity="0.9"/>
<circle cx="401.1" cy="155.1" r="6.4" fill="url(#gC)"/>
<circle cx="401.8" cy="154.8" r="1.07" fill="#fff"/>
<circle cx="398.3" cy="158.6" r="0.76" fill="#fff" opacity="0.9"/>
<circle cx="252.5" cy="174.8" r="6.3" fill="url(#gN)"/>
<circle cx="253.2" cy="174.5" r="1.05" fill="#fff"/>
<circle cx="249.7" cy="178.2" r="0.75" fill="#fff" opacity="0.9"/>
<circle cx="298.5" cy="174.3" r="6.4" fill="url(#gC)"/>
<circle cx="299.2" cy="174.0" r="1.07" fill="#fff"/>
<circle cx="295.7" cy="177.8" r="0.76" fill="#fff" opacity="0.9"/>
<circle cx="320.1" cy="174.4" r="6.3" fill="url(#gN)"/>
<circle cx="320.8" cy="174.1" r="1.05" fill="#fff"/>
<circle cx="317.3" cy="177.8" r="0.75" fill="#fff" opacity="0.9"/>
<circle cx="367.2" cy="173.1" r="6.4" fill="url(#gC)"/>
<circle cx="368.0" cy="172.8" r="1.07" fill="#fff"/>
<circle cx="364.4" cy="176.5" r="0.76" fill="#fff" opacity="0.9"/>
<circle cx="389.3" cy="173.7" r="6.3" fill="url(#gN)"/>
<circle cx="390.0" cy="173.4" r="1.05" fill="#fff"/>
<circle cx="386.5" cy="177.1" r="0.75" fill="#fff" opacity="0.9"/>
<circle cx="263.4" cy="194.0" r="6.4" fill="url(#gC)"/>
<circle cx="264.1" cy="193.7" r="1.07" fill="#fff"/>
<circle cx="260.5" cy="197.5" r="0.76" fill="#fff" opacity="0.9"/>
<circle cx="287.0" cy="194.0" r="6.3" fill="url(#gN)"/>
<circle cx="287.7" cy="193.7" r="1.05" fill="#fff"/>
<circle cx="284.2" cy="197.4" r="0.75" fill="#fff" opacity="0.9"/>
<circle cx="330.3" cy="194.2" r="6.4" fill="url(#gC)"/>
<circle cx="331.1" cy="193.9" r="1.07" fill="#fff"/>
<circle cx="327.5" cy="197.7" r="0.76" fill="#fff" opacity="0.9"/>
<circle cx="355.1" cy="194.0" r="6.3" fill="url(#gN)"/>
<circle cx="355.8" cy="193.7" r="1.05" fill="#fff"/>
<circle cx="352.3" cy="197.4" r="0.75" fill="#fff" opacity="0.9"/>
<circle cx="252.4" cy="213.7" r="6.3" fill="url(#gN)"/>
<circle cx="253.1" cy="213.4" r="1.05" fill="#fff"/>
<circle cx="249.6" cy="217.1" r="0.75" fill="#fff" opacity="0.9"/>
<circle cx="298.5" cy="213.7" r="6.4" fill="url(#gC)"/>
<circle cx="299.2" cy="213.4" r="1.07" fill="#fff"/>
<circle cx="295.7" cy="217.1" r="0.76" fill="#fff" opacity="0.9"/>
<circle cx="320.2" cy="213.7" r="6.3" fill="url(#gN)"/>
<circle cx="320.9" cy="213.4" r="1.05" fill="#fff"/>
<circle cx="317.4" cy="217.1" r="0.75" fill="#fff" opacity="0.9"/>
<circle cx="367.2" cy="213.7" r="6.4" fill="url(#gC)"/>
<circle cx="368.0" cy="213.4" r="1.07" fill="#fff"/>
<circle cx="364.4" cy="217.1" r="0.76" fill="#fff" opacity="0.9"/>
<circle cx="388.5" cy="213.7" r="6.3" fill="url(#gN)"/>
<circle cx="389.2" cy="213.4" r="1.05" fill="#fff"/>
<circle cx="385.7" cy="217.1" r="0.75" fill="#fff" opacity="0.9"/>
<circle cx="352.9" cy="115.6" r="7.3" fill="none" stroke="#1818f5" stroke-width="4.3" stroke-dasharray="4.1 3.544" transform="rotate(12 352.9 115.6)"/><circle cx="352.9" cy="115.6" r="14.0" fill="none" stroke="#f81818" stroke-width="1.7" stroke-dasharray="6.3 4.7" transform="rotate(-20 352.9 115.6)"/>
</g></g>
<clipPath id="cp3"><rect x="458.4" y="38.5" width="160.4" height="166.0"/></clipPath>
<g clip-path="url(#cp3)"><g filter="url(#soft)">

<g stroke-linecap="butt"><line x1="483.6" y1="41.6" x2="492.9" y2="41.6" stroke="#868686" stroke-width="4.6"/><line x1="504.2" y1="41.6" x2="492.9" y2="41.6" stroke="#1515f8" stroke-width="4.6"/><line x1="483.6" y1="41.6" x2="478.8" y2="49.9" stroke="#868686" stroke-width="4.6"/><line x1="472.9" y1="60.1" x2="478.8" y2="49.9" stroke="#1515f8" stroke-width="4.6"/><line x1="504.2" y1="41.6" x2="510.6" y2="51.3" stroke="#1515f8" stroke-width="4.6"/><line x1="515.9" y1="59.2" x2="510.6" y2="51.3" stroke="#868686" stroke-width="4.6"/><line x1="472.9" y1="60.1" x2="478.4" y2="70.3" stroke="#1515f8" stroke-width="4.6"/><line x1="482.9" y1="78.6" x2="478.4" y2="70.3" stroke="#868686" stroke-width="4.6"/><line x1="515.9" y1="59.2" x2="525.3" y2="59.5" stroke="#868686" stroke-width="4.6"/><line x1="536.8" y1="59.8" x2="525.3" y2="59.5" stroke="#1515f8" stroke-width="4.6"/><line x1="515.9" y1="59.2" x2="511.2" y2="67.7" stroke="#868686" stroke-width="4.6"/><line x1="505.5" y1="78.0" x2="511.2" y2="67.7" stroke="#1515f8" stroke-width="4.6"/><line x1="536.8" y1="59.8" x2="542.7" y2="69.5" stroke="#1515f8" stroke-width="4.6"/><line x1="547.5" y1="77.4" x2="542.7" y2="69.5" stroke="#868686" stroke-width="4.6"/><line x1="582.6" y1="57.6" x2="577.2" y2="66.5" stroke="#868686" stroke-width="4.6"/><line x1="570.7" y1="77.4" x2="577.2" y2="66.5" stroke="#1515f8" stroke-width="4.6"/><line x1="482.9" y1="78.6" x2="493.1" y2="78.3" stroke="#868686" stroke-width="4.6"/><line x1="505.5" y1="78.0" x2="493.1" y2="78.3" stroke="#1515f8" stroke-width="4.6"/><line x1="482.9" y1="78.6" x2="478.8" y2="87.2" stroke="#868686" stroke-width="4.6"/><line x1="473.9" y1="97.7" x2="478.8" y2="87.2" stroke="#1515f8" stroke-width="4.6"/><line x1="505.5" y1="78.0" x2="512.0" y2="88.3" stroke="#1515f8" stroke-width="4.6"/><line x1="517.4" y1="96.8" x2="512.0" y2="88.3" stroke="#868686" stroke-width="4.6"/><line x1="547.5" y1="77.4" x2="557.9" y2="77.4" stroke="#868686" stroke-width="4.6"/><line x1="570.7" y1="77.4" x2="557.9" y2="77.4" stroke="#1515f8" stroke-width="4.6"/><line x1="547.5" y1="77.4" x2="543.3" y2="85.9" stroke="#868686" stroke-width="4.6"/><line x1="538.1" y1="96.2" x2="543.3" y2="85.9" stroke="#1515f8" stroke-width="4.6"/><line x1="570.7" y1="77.4" x2="576.9" y2="88.7" stroke="#1515f8" stroke-width="4.6"/><line x1="582.0" y1="98.0" x2="576.9" y2="88.7" stroke="#868686" stroke-width="4.6"/><line x1="473.9" y1="97.7" x2="480.2" y2="107.8" stroke="#1515f8" stroke-width="4.6"/><line x1="485.4" y1="116.0" x2="480.2" y2="107.8" stroke="#868686" stroke-width="4.6"/><line x1="517.4" y1="96.8" x2="526.7" y2="96.5" stroke="#868686" stroke-width="4.6"/><line x1="538.1" y1="96.2" x2="526.7" y2="96.5" stroke="#1515f8" stroke-width="4.6"/><line x1="517.4" y1="96.8" x2="512.9" y2="105.3" stroke="#868686" stroke-width="4.6"/><line x1="507.4" y1="115.7" x2="512.9" y2="105.3" stroke="#1515f8" stroke-width="4.6"/><line x1="582.0" y1="98.0" x2="590.7" y2="97.9" stroke="#868686" stroke-width="4.6"/><line x1="601.4" y1="97.7" x2="590.7" y2="97.9" stroke="#1515f8" stroke-width="4.6"/><line x1="601.4" y1="97.7" x2="607.6" y2="107.9" stroke="#1515f8" stroke-width="4.6"/><line x1="612.7" y1="116.3" x2="607.6" y2="107.9" stroke="#868686" stroke-width="4.6"/><line x1="485.4" y1="116.0" x2="495.3" y2="115.9" stroke="#868686" stroke-width="4.6"/><line x1="507.4" y1="115.7" x2="495.3" y2="115.9" stroke="#1515f8" stroke-width="4.6"/><line x1="485.4" y1="116.0" x2="480.0" y2="124.9" stroke="#868686" stroke-width="4.6"/><line x1="473.5" y1="135.7" x2="480.0" y2="124.9" stroke="#1515f8" stroke-width="4.6"/><line x1="612.7" y1="116.3" x2="607.6" y2="124.8" stroke="#868686" stroke-width="4.6"/><line x1="601.4" y1="135.1" x2="607.6" y2="124.8" stroke="#1515f8" stroke-width="4.6"/><line x1="450.0" y1="135.7" x2="460.6" y2="135.7" stroke="#868686" stroke-width="4.6"/><line x1="473.5" y1="135.7" x2="460.6" y2="135.7" stroke="#1515f8" stroke-width="4.6"/><line x1="473.5" y1="135.7" x2="479.5" y2="147.0" stroke="#1515f8" stroke-width="4.6"/><line x1="484.4" y1="156.2" x2="479.5" y2="147.0" stroke="#868686" stroke-width="4.6"/><line x1="580.1" y1="134.1" x2="589.7" y2="134.5" stroke="#868686" stroke-width="4.6"/><line x1="601.4" y1="135.1" x2="589.7" y2="134.5" stroke="#1515f8" stroke-width="4.6"/><line x1="580.1" y1="134.1" x2="575.0" y2="142.4" stroke="#868686" stroke-width="4.6"/><line x1="568.8" y1="152.6" x2="575.0" y2="142.4" stroke="#1515f8" stroke-width="4.6"/><line x1="601.4" y1="135.1" x2="607.6" y2="145.8" stroke="#1515f8" stroke-width="4.6"/><line x1="612.7" y1="154.5" x2="607.6" y2="145.8" stroke="#868686" stroke-width="4.6"/><line x1="484.4" y1="156.2" x2="493.4" y2="156.2" stroke="#868686" stroke-width="4.6"/><line x1="504.4" y1="156.2" x2="493.4" y2="156.2" stroke="#1515f8" stroke-width="4.6"/><line x1="484.4" y1="156.2" x2="479.2" y2="163.9" stroke="#868686" stroke-width="4.6"/><line x1="472.9" y1="173.3" x2="479.2" y2="163.9" stroke="#1515f8" stroke-width="4.6"/><line x1="504.4" y1="156.2" x2="510.1" y2="166.6" stroke="#1515f8" stroke-width="4.6"/><line x1="514.8" y1="175.2" x2="510.1" y2="166.6" stroke="#868686" stroke-width="4.6"/><line x1="568.8" y1="152.6" x2="575.3" y2="162.9" stroke="#1515f8" stroke-width="4.6"/><line x1="580.7" y1="171.3" x2="575.3" y2="162.9" stroke="#868686" stroke-width="4.6"/><line x1="612.7" y1="154.5" x2="607.6" y2="162.4" stroke="#868686" stroke-width="4.6"/><line x1="601.4" y1="172.1" x2="607.6" y2="162.4" stroke="#1515f8" stroke-width="4.6"/><line x1="472.9" y1="173.3" x2="478.1" y2="183.9" stroke="#1515f8" stroke-width="4.6"/><line x1="482.3" y1="192.6" x2="478.1" y2="183.9" stroke="#868686" stroke-width="4.6"/><line x1="514.8" y1="175.2" x2="524.4" y2="175.5" stroke="#868686" stroke-width="4.6"/><line x1="536.2" y1="175.8" x2="524.4" y2="175.5" stroke="#1515f8" stroke-width="4.6"/><line x1="514.8" y1="175.2" x2="510.3" y2="183.3" stroke="#868686" stroke-width="4.6"/><line x1="504.9" y1="193.3" x2="510.3" y2="183.3" stroke="#1515f8" stroke-width="4.6"/><line x1="536.2" y1="175.8" x2="541.7" y2="185.0" stroke="#1515f8" stroke-width="4.6"/><line x1="546.2" y1="192.6" x2="541.7" y2="185.0" stroke="#868686" stroke-width="4.6"/><line x1="580.7" y1="171.3" x2="590.0" y2="171.7" stroke="#868686" stroke-width="4.6"/><line x1="601.4" y1="172.1" x2="590.0" y2="171.7" stroke="#1515f8" stroke-width="4.6"/><line x1="580.7" y1="171.3" x2="575.9" y2="180.4" stroke="#868686" stroke-width="4.6"/><line x1="570.1" y1="191.6" x2="575.9" y2="180.4" stroke="#1515f8" stroke-width="4.6"/><line x1="482.3" y1="192.6" x2="492.5" y2="192.9" stroke="#868686" stroke-width="4.6"/><line x1="504.9" y1="193.3" x2="492.5" y2="192.9" stroke="#1515f8" stroke-width="4.6"/><line x1="482.3" y1="192.6" x2="477.7" y2="201.1" stroke="#868686" stroke-width="4.6"/><line x1="472.0" y1="211.5" x2="477.7" y2="201.1" stroke="#1515f8" stroke-width="4.6"/><line x1="504.9" y1="193.3" x2="510.5" y2="203.6" stroke="#1515f8" stroke-width="4.6"/><line x1="515.0" y1="212.0" x2="510.5" y2="203.6" stroke="#868686" stroke-width="4.6"/><line x1="546.2" y1="192.6" x2="557.0" y2="192.2" stroke="#868686" stroke-width="4.6"/><line x1="570.1" y1="191.6" x2="557.0" y2="192.2" stroke="#1515f8" stroke-width="4.6"/><line x1="546.2" y1="192.6" x2="541.6" y2="201.3" stroke="#868686" stroke-width="4.6"/><line x1="536.0" y1="212.0" x2="541.6" y2="201.3" stroke="#1515f8" stroke-width="4.6"/><line x1="570.1" y1="191.6" x2="576.1" y2="202.3" stroke="#1515f8" stroke-width="4.6"/><line x1="581.0" y1="211.0" x2="576.1" y2="202.3" stroke="#868686" stroke-width="4.6"/><line x1="515.0" y1="212.0" x2="524.5" y2="212.0" stroke="#868686" stroke-width="4.6"/><line x1="536.0" y1="212.0" x2="524.5" y2="212.0" stroke="#1515f8" stroke-width="4.6"/><line x1="528.4" y1="142.0" x2="517.9" y2="128.8" stroke="#ee8570" stroke-width="4.6"/><line x1="507.4" y1="115.7" x2="517.9" y2="128.8" stroke="#1515f8" stroke-width="4.6"/><line x1="528.4" y1="142.0" x2="516.4" y2="149.1" stroke="#ee8570" stroke-width="4.6"/><line x1="504.4" y1="156.2" x2="516.4" y2="149.1" stroke="#1515f8" stroke-width="4.6"/><line x1="528.4" y1="142.0" x2="532.3" y2="158.9" stroke="#ee8570" stroke-width="4.6"/><line x1="536.2" y1="175.8" x2="532.3" y2="158.9" stroke="#1515f8" stroke-width="4.6"/><line x1="483.6" y1="41.6" x2="478.8" y2="49.9" stroke="#a8a8a8" stroke-width="1.84"/><line x1="515.9" y1="59.2" x2="511.2" y2="67.7" stroke="#a8a8a8" stroke-width="1.84"/><line x1="582.6" y1="57.6" x2="577.2" y2="66.5" stroke="#a8a8a8" stroke-width="1.84"/><line x1="482.9" y1="78.6" x2="493.1" y2="78.3" stroke="#a8a8a8" stroke-width="1.84"/><line x1="482.9" y1="78.6" x2="478.8" y2="87.2" stroke="#a8a8a8" stroke-width="1.84"/><line x1="547.5" y1="77.4" x2="557.9" y2="77.4" stroke="#a8a8a8" stroke-width="1.84"/><line x1="547.5" y1="77.4" x2="543.3" y2="85.9" stroke="#a8a8a8" stroke-width="1.84"/><line x1="517.4" y1="96.8" x2="526.7" y2="96.5" stroke="#a8a8a8" stroke-width="1.84"/><line x1="517.4" y1="96.8" x2="512.9" y2="105.3" stroke="#a8a8a8" stroke-width="1.84"/><line x1="582.0" y1="98.0" x2="590.7" y2="97.9" stroke="#a8a8a8" stroke-width="1.84"/><line x1="485.4" y1="116.0" x2="495.3" y2="115.9" stroke="#a8a8a8" stroke-width="1.84"/><line x1="485.4" y1="116.0" x2="480.0" y2="124.9" stroke="#a8a8a8" stroke-width="1.84"/><line x1="612.7" y1="116.3" x2="607.6" y2="124.8" stroke="#a8a8a8" stroke-width="1.84"/><line x1="450.0" y1="135.7" x2="460.6" y2="135.7" stroke="#a8a8a8" stroke-width="1.84"/><line x1="580.1" y1="134.1" x2="589.7" y2="134.5" stroke="#a8a8a8" stroke-width="1.84"/><line x1="580.1" y1="134.1" x2="575.0" y2="142.4" stroke="#a8a8a8" stroke-width="1.84"/><line x1="484.4" y1="156.2" x2="493.4" y2="156.2" stroke="#a8a8a8" stroke-width="1.84"/><line x1="484.4" y1="156.2" x2="479.2" y2="163.9" stroke="#a8a8a8" stroke-width="1.84"/><line x1="612.7" y1="154.5" x2="607.6" y2="162.4" stroke="#a8a8a8" stroke-width="1.84"/><line x1="514.8" y1="175.2" x2="510.3" y2="183.3" stroke="#a8a8a8" stroke-width="1.84"/><line x1="580.7" y1="171.3" x2="575.9" y2="180.4" stroke="#a8a8a8" stroke-width="1.84"/><line x1="482.3" y1="192.6" x2="492.5" y2="192.9" stroke="#a8a8a8" stroke-width="1.84"/><line x1="482.3" y1="192.6" x2="477.7" y2="201.1" stroke="#a8a8a8" stroke-width="1.84"/><line x1="546.2" y1="192.6" x2="557.0" y2="192.2" stroke="#a8a8a8" stroke-width="1.84"/><line x1="546.2" y1="192.6" x2="541.6" y2="201.3" stroke="#a8a8a8" stroke-width="1.84"/><line x1="515.0" y1="212.0" x2="524.5" y2="212.0" stroke="#a8a8a8" stroke-width="1.84"/><line x1="483.6" y1="41.6" x2="504.2" y2="41.6" stroke="#fff" stroke-width="1.01" opacity="0.85"/><line x1="504.2" y1="41.6" x2="515.9" y2="59.2" stroke="#fff" stroke-width="1.01" opacity="0.85"/><line x1="472.9" y1="60.1" x2="482.9" y2="78.6" stroke="#fff" stroke-width="1.01" opacity="0.85"/><line x1="515.9" y1="59.2" x2="536.8" y2="59.8" stroke="#fff" stroke-width="1.01" opacity="0.85"/><line x1="536.8" y1="59.8" x2="547.5" y2="77.4" stroke="#fff" stroke-width="1.01" opacity="0.85"/><line x1="505.5" y1="78.0" x2="517.4" y2="96.8" stroke="#fff" stroke-width="1.01" opacity="0.85"/><line x1="570.7" y1="77.4" x2="582.0" y2="98.0" stroke="#fff" stroke-width="1.01" opacity="0.85"/><line x1="473.9" y1="97.7" x2="485.4" y2="116.0" stroke="#fff" stroke-width="1.01" opacity="0.85"/><line x1="601.4" y1="97.7" x2="612.7" y2="116.3" stroke="#fff" stroke-width="1.01" opacity="0.85"/><line x1="473.5" y1="135.7" x2="484.4" y2="156.2" stroke="#fff" stroke-width="1.01" opacity="0.85"/><line x1="601.4" y1="135.1" x2="612.7" y2="154.5" stroke="#fff" stroke-width="1.01" opacity="0.85"/><line x1="504.4" y1="156.2" x2="514.8" y2="175.2" stroke="#fff" stroke-width="1.01" opacity="0.85"/><line x1="568.8" y1="152.6" x2="580.7" y2="171.3" stroke="#fff" stroke-width="1.01" opacity="0.85"/><line x1="472.9" y1="173.3" x2="482.3" y2="192.6" stroke="#fff" stroke-width="1.01" opacity="0.85"/><line x1="514.8" y1="175.2" x2="536.2" y2="175.8" stroke="#fff" stroke-width="1.01" opacity="0.85"/><line x1="536.2" y1="175.8" x2="546.2" y2="192.6" stroke="#fff" stroke-width="1.01" opacity="0.85"/><line x1="580.7" y1="171.3" x2="601.4" y2="172.1" stroke="#fff" stroke-width="1.01" opacity="0.85"/><line x1="504.9" y1="193.3" x2="515.0" y2="212.0" stroke="#fff" stroke-width="1.01" opacity="0.85"/><line x1="570.1" y1="191.6" x2="581.0" y2="211.0" stroke="#fff" stroke-width="1.01" opacity="0.85"/></g>

<circle cx="483.6" cy="41.6" r="6.0" fill="url(#gC)"/>
<circle cx="484.3" cy="41.3" r="1.00" fill="#fff"/>
<circle cx="480.9" cy="44.8" r="0.71" fill="#fff" opacity="0.9"/>
<circle cx="504.2" cy="41.6" r="5.7" fill="url(#gN)"/>
<circle cx="504.8" cy="41.3" r="0.95" fill="#fff"/>
<circle cx="501.7" cy="44.7" r="0.68" fill="#fff" opacity="0.9"/>
<circle cx="472.9" cy="60.1" r="5.7" fill="url(#gN)"/>
<circle cx="473.5" cy="59.8" r="0.95" fill="#fff"/>
<circle cx="470.4" cy="63.2" r="0.68" fill="#fff" opacity="0.9"/>
<circle cx="515.9" cy="59.2" r="6.0" fill="url(#gC)"/>
<circle cx="516.6" cy="58.9" r="1.00" fill="#fff"/>
<circle cx="513.2" cy="62.4" r="0.71" fill="#fff" opacity="0.9"/>
<circle cx="536.8" cy="59.8" r="5.7" fill="url(#gN)"/>
<circle cx="537.4" cy="59.5" r="0.95" fill="#fff"/>
<circle cx="534.3" cy="62.9" r="0.68" fill="#fff" opacity="0.9"/>
<circle cx="582.6" cy="57.6" r="6.0" fill="url(#gC)"/>
<circle cx="583.3" cy="57.3" r="1.00" fill="#fff"/>
<circle cx="579.9" cy="60.8" r="0.71" fill="#fff" opacity="0.9"/>
<circle cx="482.9" cy="78.6" r="6.0" fill="url(#gC)"/>
<circle cx="483.6" cy="78.3" r="1.00" fill="#fff"/>
<circle cx="480.2" cy="81.8" r="0.71" fill="#fff" opacity="0.9"/>
<circle cx="505.5" cy="78.0" r="5.7" fill="url(#gN)"/>
<circle cx="506.1" cy="77.7" r="0.95" fill="#fff"/>
<circle cx="503.0" cy="81.1" r="0.68" fill="#fff" opacity="0.9"/>
<circle cx="547.5" cy="77.4" r="6.0" fill="url(#gC)"/>
<circle cx="548.2" cy="77.1" r="1.00" fill="#fff"/>
<circle cx="544.8" cy="80.6" r="0.71" fill="#fff" opacity="0.9"/>
<circle cx="570.7" cy="77.4" r="5.7" fill="url(#gN)"/>
<circle cx="571.3" cy="77.1" r="0.95" fill="#fff"/>
<circle cx="568.2" cy="80.5" r="0.68" fill="#fff" opacity="0.9"/>
<circle cx="473.9" cy="97.7" r="5.7" fill="url(#gN)"/>
<circle cx="474.5" cy="97.4" r="0.95" fill="#fff"/>
<circle cx="471.4" cy="100.8" r="0.68" fill="#fff" opacity="0.9"/>
<circle cx="517.4" cy="96.8" r="6.0" fill="url(#gC)"/>
<circle cx="518.1" cy="96.5" r="1.00" fill="#fff"/>
<circle cx="514.7" cy="100.0" r="0.71" fill="#fff" opacity="0.9"/>
<circle cx="538.1" cy="96.2" r="5.7" fill="url(#gN)"/>
<circle cx="538.7" cy="95.9" r="0.95" fill="#fff"/>
<circle cx="535.6" cy="99.3" r="0.68" fill="#fff" opacity="0.9"/>
<circle cx="582.0" cy="98.0" r="6.0" fill="url(#gC)"/>
<circle cx="582.7" cy="97.7" r="1.00" fill="#fff"/>
<circle cx="579.3" cy="101.2" r="0.71" fill="#fff" opacity="0.9"/>
<circle cx="601.4" cy="97.7" r="5.7" fill="url(#gN)"/>
<circle cx="602.0" cy="97.4" r="0.95" fill="#fff"/>
<circle cx="598.9" cy="100.8" r="0.68" fill="#fff" opacity="0.9"/>
<circle cx="485.4" cy="116.0" r="6.0" fill="url(#gC)"/>
<circle cx="486.1" cy="115.7" r="1.00" fill="#fff"/>
<circle cx="482.7" cy="119.2" r="0.71" fill="#fff" opacity="0.9"/>
<circle cx="507.4" cy="115.7" r="5.7" fill="url(#gN)"/>
<circle cx="508.0" cy="115.4" r="0.95" fill="#fff"/>
<circle cx="504.9" cy="118.8" r="0.68" fill="#fff" opacity="0.9"/>
<circle cx="612.7" cy="116.3" r="6.0" fill="url(#gC)"/>
<circle cx="613.4" cy="116.0" r="1.00" fill="#fff"/>
<circle cx="610.0" cy="119.5" r="0.71" fill="#fff" opacity="0.9"/>
<circle cx="450.0" cy="135.7" r="6.0" fill="url(#gC)"/>
<circle cx="450.7" cy="135.4" r="1.00" fill="#fff"/>
<circle cx="447.3" cy="138.9" r="0.71" fill="#fff" opacity="0.9"/>
<circle cx="473.5" cy="135.7" r="5.7" fill="url(#gN)"/>
<circle cx="474.1" cy="135.4" r="0.95" fill="#fff"/>
<circle cx="471.0" cy="138.8" r="0.68" fill="#fff" opacity="0.9"/>
<circle cx="580.1" cy="134.1" r="6.0" fill="url(#gC)"/>
<circle cx="580.8" cy="133.8" r="1.00" fill="#fff"/>
<circle cx="577.4" cy="137.3" r="0.71" fill="#fff" opacity="0.9"/>
<circle cx="601.4" cy="135.1" r="5.7" fill="url(#gN)"/>
<circle cx="602.0" cy="134.8" r="0.95" fill="#fff"/>
<circle cx="598.9" cy="138.2" r="0.68" fill="#fff" opacity="0.9"/>
<circle cx="484.4" cy="156.2" r="6.0" fill="url(#gC)"/>
<circle cx="485.1" cy="155.9" r="1.00" fill="#fff"/>
<circle cx="481.7" cy="159.4" r="0.71" fill="#fff" opacity="0.9"/>
<circle cx="504.4" cy="156.2" r="5.7" fill="url(#gN)"/>
<circle cx="505.0" cy="155.9" r="0.95" fill="#fff"/>
<circle cx="501.9" cy="159.3" r="0.68" fill="#fff" opacity="0.9"/>
<circle cx="568.8" cy="152.6" r="5.7" fill="url(#gN)"/>
<circle cx="569.4" cy="152.3" r="0.95" fill="#fff"/>
<circle cx="566.3" cy="155.7" r="0.68" fill="#fff" opacity="0.9"/>
<circle cx="612.7" cy="154.5" r="6.0" fill="url(#gC)"/>
<circle cx="613.4" cy="154.2" r="1.00" fill="#fff"/>
<circle cx="610.0" cy="157.7" r="0.71" fill="#fff" opacity="0.9"/>
<circle cx="472.9" cy="173.3" r="5.7" fill="url(#gN)"/>
<circle cx="473.5" cy="173.0" r="0.95" fill="#fff"/>
<circle cx="470.4" cy="176.4" r="0.68" fill="#fff" opacity="0.9"/>
<circle cx="514.8" cy="175.2" r="6.0" fill="url(#gC)"/>
<circle cx="515.5" cy="174.9" r="1.00" fill="#fff"/>
<circle cx="512.1" cy="178.4" r="0.71" fill="#fff" opacity="0.9"/>
<circle cx="536.2" cy="175.8" r="5.7" fill="url(#gN)"/>
<circle cx="536.8" cy="175.5" r="0.95" fill="#fff"/>
<circle cx="533.7" cy="178.9" r="0.68" fill="#fff" opacity="0.9"/>
<circle cx="580.7" cy="171.3" r="6.0" fill="url(#gC)"/>
<circle cx="581.4" cy="171.0" r="1.00" fill="#fff"/>
<circle cx="578.0" cy="174.5" r="0.71" fill="#fff" opacity="0.9"/>
<circle cx="601.4" cy="172.1" r="5.7" fill="url(#gN)"/>
<circle cx="602.0" cy="171.8" r="0.95" fill="#fff"/>
<circle cx="598.9" cy="175.2" r="0.68" fill="#fff" opacity="0.9"/>
<circle cx="482.3" cy="192.6" r="6.0" fill="url(#gC)"/>
<circle cx="483.0" cy="192.3" r="1.00" fill="#fff"/>
<circle cx="479.6" cy="195.8" r="0.71" fill="#fff" opacity="0.9"/>
<circle cx="504.9" cy="193.3" r="5.7" fill="url(#gN)"/>
<circle cx="505.5" cy="193.0" r="0.95" fill="#fff"/>
<circle cx="502.4" cy="196.4" r="0.68" fill="#fff" opacity="0.9"/>
<circle cx="546.2" cy="192.6" r="6.0" fill="url(#gC)"/>
<circle cx="546.9" cy="192.3" r="1.00" fill="#fff"/>
<circle cx="543.5" cy="195.8" r="0.71" fill="#fff" opacity="0.9"/>
<circle cx="570.1" cy="191.6" r="5.7" fill="url(#gN)"/>
<circle cx="570.7" cy="191.3" r="0.95" fill="#fff"/>
<circle cx="567.6" cy="194.7" r="0.68" fill="#fff" opacity="0.9"/>
<circle cx="472.0" cy="211.5" r="5.7" fill="url(#gN)"/>
<circle cx="472.6" cy="211.2" r="0.95" fill="#fff"/>
<circle cx="469.5" cy="214.6" r="0.68" fill="#fff" opacity="0.9"/>
<circle cx="515.0" cy="212.0" r="6.0" fill="url(#gC)"/>
<circle cx="515.7" cy="211.7" r="1.00" fill="#fff"/>
<circle cx="512.3" cy="215.2" r="0.71" fill="#fff" opacity="0.9"/>
<circle cx="536.0" cy="212.0" r="5.7" fill="url(#gN)"/>
<circle cx="536.6" cy="211.7" r="0.95" fill="#fff"/>
<circle cx="533.5" cy="215.1" r="0.68" fill="#fff" opacity="0.9"/>
<circle cx="581.0" cy="211.0" r="6.0" fill="url(#gC)"/>
<circle cx="581.7" cy="210.7" r="1.00" fill="#fff"/>
<circle cx="578.3" cy="214.2" r="0.71" fill="#fff" opacity="0.9"/>
<circle cx="559.4" cy="115.0" r="9.3" fill="url(#gU)"/>
<circle cx="560.4" cy="114.6" r="1.55" fill="#fff"/>
<circle cx="555.3" cy="120.0" r="1.11" fill="#fff" opacity="0.9"/>
<circle cx="528.4" cy="142.0" r="9.3" fill="url(#gU)"/>
<circle cx="529.4" cy="141.6" r="1.55" fill="#fff"/>
<circle cx="524.3" cy="147.0" r="1.11" fill="#fff" opacity="0.9"/>

</g></g>
<clipPath id="cp4"><rect x="698.7" y="38.5" width="155.3" height="166.0"/></clipPath>
<g clip-path="url(#cp4)"><g filter="url(#soft)">

<g stroke-linecap="butt"><line x1="720.1" y1="41.6" x2="729.1" y2="41.6" stroke="#868686" stroke-width="4.6"/><line x1="740.1" y1="41.6" x2="729.1" y2="41.6" stroke="#1515f8" stroke-width="4.6"/><line x1="720.1" y1="41.6" x2="715.3" y2="49.8" stroke="#868686" stroke-width="4.6"/><line x1="709.4" y1="59.8" x2="715.3" y2="49.8" stroke="#1515f8" stroke-width="4.6"/><line x1="740.1" y1="41.6" x2="746.6" y2="51.3" stroke="#1515f8" stroke-width="4.6"/><line x1="752.0" y1="59.2" x2="746.6" y2="51.3" stroke="#868686" stroke-width="4.6"/><line x1="709.4" y1="59.8" x2="715.1" y2="70.1" stroke="#1515f8" stroke-width="4.6"/><line x1="719.8" y1="78.6" x2="715.1" y2="70.1" stroke="#868686" stroke-width="4.6"/><line x1="752.0" y1="59.2" x2="761.3" y2="59.3" stroke="#868686" stroke-width="4.6"/><line x1="772.7" y1="59.5" x2="761.3" y2="59.3" stroke="#1515f8" stroke-width="4.6"/><line x1="752.0" y1="59.2" x2="747.5" y2="67.5" stroke="#868686" stroke-width="4.6"/><line x1="742.0" y1="77.6" x2="747.5" y2="67.5" stroke="#1515f8" stroke-width="4.6"/><line x1="772.7" y1="59.5" x2="778.6" y2="69.2" stroke="#1515f8" stroke-width="4.6"/><line x1="783.4" y1="77.1" x2="778.6" y2="69.2" stroke="#868686" stroke-width="4.6"/><line x1="817.7" y1="57.6" x2="812.7" y2="66.2" stroke="#868686" stroke-width="4.6"/><line x1="806.6" y1="76.7" x2="812.7" y2="66.2" stroke="#1515f8" stroke-width="4.6"/><line x1="719.8" y1="78.6" x2="729.8" y2="78.1" stroke="#868686" stroke-width="4.6"/><line x1="742.0" y1="77.6" x2="729.8" y2="78.1" stroke="#1515f8" stroke-width="4.6"/><line x1="719.8" y1="78.6" x2="715.5" y2="87.1" stroke="#868686" stroke-width="4.6"/><line x1="710.3" y1="97.4" x2="715.5" y2="87.1" stroke="#1515f8" stroke-width="4.6"/><line x1="742.0" y1="77.6" x2="748.2" y2="87.8" stroke="#1515f8" stroke-width="4.6"/><line x1="753.3" y1="96.2" x2="748.2" y2="87.8" stroke="#868686" stroke-width="4.6"/><line x1="783.4" y1="77.1" x2="793.8" y2="76.9" stroke="#868686" stroke-width="4.6"/><line x1="806.6" y1="76.7" x2="793.8" y2="76.9" stroke="#1515f8" stroke-width="4.6"/><line x1="783.4" y1="77.1" x2="779.4" y2="84.8" stroke="#868686" stroke-width="4.6"/><line x1="774.4" y1="94.3" x2="779.4" y2="84.8" stroke="#1515f8" stroke-width="4.6"/><line x1="806.6" y1="76.7" x2="812.7" y2="88.1" stroke="#1515f8" stroke-width="4.6"/><line x1="817.7" y1="97.4" x2="812.7" y2="88.1" stroke="#868686" stroke-width="4.6"/><line x1="710.3" y1="97.4" x2="716.7" y2="107.2" stroke="#1515f8" stroke-width="4.6"/><line x1="722.0" y1="115.3" x2="716.7" y2="107.2" stroke="#868686" stroke-width="4.6"/><line x1="753.3" y1="96.2" x2="762.8" y2="95.3" stroke="#868686" stroke-width="4.6"/><line x1="774.4" y1="94.3" x2="762.8" y2="95.3" stroke="#1515f8" stroke-width="4.6"/><line x1="753.3" y1="96.2" x2="749.1" y2="104.7" stroke="#868686" stroke-width="4.6"/><line x1="743.9" y1="115.0" x2="749.1" y2="104.7" stroke="#1515f8" stroke-width="4.6"/><line x1="817.7" y1="97.4" x2="826.5" y2="97.3" stroke="#868686" stroke-width="4.6"/><line x1="837.3" y1="97.2" x2="826.5" y2="97.3" stroke="#1515f8" stroke-width="4.6"/><line x1="837.3" y1="97.2" x2="843.4" y2="107.4" stroke="#1515f8" stroke-width="4.6"/><line x1="848.4" y1="115.7" x2="843.4" y2="107.4" stroke="#868686" stroke-width="4.6"/><line x1="722.0" y1="115.3" x2="731.9" y2="115.2" stroke="#868686" stroke-width="4.6"/><line x1="743.9" y1="115.0" x2="731.9" y2="115.2" stroke="#1515f8" stroke-width="4.6"/><line x1="722.0" y1="115.3" x2="716.6" y2="123.8" stroke="#868686" stroke-width="4.6"/><line x1="710.0" y1="134.1" x2="716.6" y2="123.8" stroke="#1515f8" stroke-width="4.6"/><line x1="848.4" y1="115.7" x2="843.4" y2="123.8" stroke="#868686" stroke-width="4.6"/><line x1="837.3" y1="133.6" x2="843.4" y2="123.8" stroke="#1515f8" stroke-width="4.6"/><line x1="686.0" y1="134.1" x2="696.8" y2="134.1" stroke="#868686" stroke-width="4.6"/><line x1="710.0" y1="134.1" x2="696.8" y2="134.1" stroke="#1515f8" stroke-width="4.6"/><line x1="710.0" y1="134.1" x2="715.9" y2="145.6" stroke="#1515f8" stroke-width="4.6"/><line x1="720.7" y1="155.0" x2="715.9" y2="145.6" stroke="#868686" stroke-width="4.6"/><line x1="816.0" y1="133.2" x2="825.6" y2="133.4" stroke="#868686" stroke-width="4.6"/><line x1="837.3" y1="133.6" x2="825.6" y2="133.4" stroke="#1515f8" stroke-width="4.6"/><line x1="816.0" y1="133.2" x2="811.0" y2="141.4" stroke="#868686" stroke-width="4.6"/><line x1="804.8" y1="151.4" x2="811.0" y2="141.4" stroke="#1515f8" stroke-width="4.6"/><line x1="837.3" y1="133.6" x2="843.3" y2="144.7" stroke="#1515f8" stroke-width="4.6"/><line x1="848.2" y1="153.7" x2="843.3" y2="144.7" stroke="#868686" stroke-width="4.6"/><line x1="720.7" y1="155.0" x2="729.9" y2="155.0" stroke="#868686" stroke-width="4.6"/><line x1="741.1" y1="155.0" x2="729.9" y2="155.0" stroke="#1515f8" stroke-width="4.6"/><line x1="720.7" y1="155.0" x2="715.7" y2="162.7" stroke="#868686" stroke-width="4.6"/><line x1="709.6" y1="172.0" x2="715.7" y2="162.7" stroke="#1515f8" stroke-width="4.6"/><line x1="741.1" y1="155.0" x2="746.8" y2="165.2" stroke="#1515f8" stroke-width="4.6"/><line x1="751.4" y1="173.5" x2="746.8" y2="165.2" stroke="#868686" stroke-width="4.6"/><line x1="804.8" y1="151.4" x2="810.8" y2="161.6" stroke="#1515f8" stroke-width="4.6"/><line x1="815.7" y1="169.9" x2="810.8" y2="161.6" stroke="#868686" stroke-width="4.6"/><line x1="848.2" y1="153.7" x2="843.0" y2="161.1" stroke="#868686" stroke-width="4.6"/><line x1="836.7" y1="170.2" x2="843.0" y2="161.1" stroke="#1515f8" stroke-width="4.6"/><line x1="709.6" y1="172.0" x2="714.8" y2="182.5" stroke="#1515f8" stroke-width="4.6"/><line x1="719.1" y1="191.1" x2="714.8" y2="182.5" stroke="#868686" stroke-width="4.6"/><line x1="751.4" y1="173.5" x2="760.9" y2="173.9" stroke="#868686" stroke-width="4.6"/><line x1="772.4" y1="174.3" x2="760.9" y2="173.9" stroke="#1515f8" stroke-width="4.6"/><line x1="751.4" y1="173.5" x2="746.8" y2="181.6" stroke="#868686" stroke-width="4.6"/><line x1="741.1" y1="191.4" x2="746.8" y2="181.6" stroke="#1515f8" stroke-width="4.6"/><line x1="772.4" y1="174.3" x2="778.1" y2="183.6" stroke="#1515f8" stroke-width="4.6"/><line x1="782.7" y1="191.2" x2="778.1" y2="183.6" stroke="#868686" stroke-width="4.6"/><line x1="815.7" y1="169.9" x2="825.2" y2="170.0" stroke="#868686" stroke-width="4.6"/><line x1="836.7" y1="170.2" x2="825.2" y2="170.0" stroke="#1515f8" stroke-width="4.6"/><line x1="815.7" y1="169.9" x2="811.2" y2="178.9" stroke="#868686" stroke-width="4.6"/><line x1="805.6" y1="189.9" x2="811.2" y2="178.9" stroke="#1515f8" stroke-width="4.6"/><line x1="719.1" y1="191.1" x2="729.0" y2="191.2" stroke="#868686" stroke-width="4.6"/><line x1="741.1" y1="191.4" x2="729.0" y2="191.2" stroke="#1515f8" stroke-width="4.6"/><line x1="719.1" y1="191.1" x2="714.6" y2="199.6" stroke="#868686" stroke-width="4.6"/><line x1="709.0" y1="210.0" x2="714.6" y2="199.6" stroke="#1515f8" stroke-width="4.6"/><line x1="741.1" y1="191.4" x2="746.8" y2="201.9" stroke="#1515f8" stroke-width="4.6"/><line x1="751.5" y1="210.5" x2="746.8" y2="201.9" stroke="#868686" stroke-width="4.6"/><line x1="782.7" y1="191.2" x2="793.0" y2="190.6" stroke="#868686" stroke-width="4.6"/><line x1="805.6" y1="189.9" x2="793.0" y2="190.6" stroke="#1515f8" stroke-width="4.6"/><line x1="782.7" y1="191.2" x2="778.1" y2="199.9" stroke="#868686" stroke-width="4.6"/><line x1="772.5" y1="210.5" x2="778.1" y2="199.9" stroke="#1515f8" stroke-width="4.6"/><line x1="805.6" y1="189.9" x2="811.3" y2="200.4" stroke="#1515f8" stroke-width="4.6"/><line x1="816.0" y1="209.0" x2="811.3" y2="200.4" stroke="#868686" stroke-width="4.6"/><line x1="751.5" y1="210.5" x2="761.0" y2="210.5" stroke="#868686" stroke-width="4.6"/><line x1="772.5" y1="210.5" x2="761.0" y2="210.5" stroke="#1515f8" stroke-width="4.6"/><line x1="816.0" y1="209.0" x2="825.6" y2="209.4" stroke="#868686" stroke-width="4.6"/><line x1="837.3" y1="210.0" x2="825.6" y2="209.4" stroke="#1515f8" stroke-width="4.6"/><line x1="762.3" y1="141.1" x2="753.1" y2="128.1" stroke="#ee8570" stroke-width="4.6"/><line x1="743.9" y1="115.0" x2="753.1" y2="128.1" stroke="#1515f8" stroke-width="4.6"/><line x1="762.3" y1="141.1" x2="751.7" y2="148.1" stroke="#ee8570" stroke-width="4.6"/><line x1="741.1" y1="155.0" x2="751.7" y2="148.1" stroke="#1515f8" stroke-width="4.6"/><line x1="762.3" y1="141.1" x2="767.3" y2="157.7" stroke="#ee8570" stroke-width="4.6"/><line x1="772.4" y1="174.3" x2="767.3" y2="157.7" stroke="#1515f8" stroke-width="4.6"/><line x1="793.3" y1="117.8" x2="783.8" y2="106.0" stroke="#ee8570" stroke-width="4.6"/><line x1="774.4" y1="94.3" x2="783.8" y2="106.0" stroke="#1515f8" stroke-width="4.6"/><line x1="793.3" y1="117.8" x2="805.5" y2="107.6" stroke="#ee8570" stroke-width="4.6"/><line x1="817.7" y1="97.4" x2="805.5" y2="107.6" stroke="#868686" stroke-width="4.6"/><line x1="793.3" y1="117.8" x2="804.6" y2="125.5" stroke="#ee8570" stroke-width="4.6"/><line x1="816.0" y1="133.2" x2="804.6" y2="125.5" stroke="#868686" stroke-width="4.6"/><line x1="720.1" y1="41.6" x2="715.3" y2="49.8" stroke="#a8a8a8" stroke-width="1.84"/><line x1="752.0" y1="59.2" x2="747.5" y2="67.5" stroke="#a8a8a8" stroke-width="1.84"/><line x1="817.7" y1="57.6" x2="812.7" y2="66.2" stroke="#a8a8a8" stroke-width="1.84"/><line x1="719.8" y1="78.6" x2="729.8" y2="78.1" stroke="#a8a8a8" stroke-width="1.84"/><line x1="719.8" y1="78.6" x2="715.5" y2="87.1" stroke="#a8a8a8" stroke-width="1.84"/><line x1="783.4" y1="77.1" x2="793.8" y2="76.9" stroke="#a8a8a8" stroke-width="1.84"/><line x1="783.4" y1="77.1" x2="779.4" y2="84.8" stroke="#a8a8a8" stroke-width="1.84"/><line x1="753.3" y1="96.2" x2="762.8" y2="95.3" stroke="#a8a8a8" stroke-width="1.84"/><line x1="753.3" y1="96.2" x2="749.1" y2="104.7" stroke="#a8a8a8" stroke-width="1.84"/><line x1="817.7" y1="97.4" x2="826.5" y2="97.3" stroke="#a8a8a8" stroke-width="1.84"/><line x1="722.0" y1="115.3" x2="731.9" y2="115.2" stroke="#a8a8a8" stroke-width="1.84"/><line x1="722.0" y1="115.3" x2="716.6" y2="123.8" stroke="#a8a8a8" stroke-width="1.84"/><line x1="848.4" y1="115.7" x2="843.4" y2="123.8" stroke="#a8a8a8" stroke-width="1.84"/><line x1="686.0" y1="134.1" x2="696.8" y2="134.1" stroke="#a8a8a8" stroke-width="1.84"/><line x1="816.0" y1="133.2" x2="825.6" y2="133.4" stroke="#a8a8a8" stroke-width="1.84"/><line x1="816.0" y1="133.2" x2="811.0" y2="141.4" stroke="#a8a8a8" stroke-width="1.84"/><line x1="720.7" y1="155.0" x2="729.9" y2="155.0" stroke="#a8a8a8" stroke-width="1.84"/><line x1="720.7" y1="155.0" x2="715.7" y2="162.7" stroke="#a8a8a8" stroke-width="1.84"/><line x1="848.2" y1="153.7" x2="843.0" y2="161.1" stroke="#a8a8a8" stroke-width="1.84"/><line x1="751.4" y1="173.5" x2="746.8" y2="181.6" stroke="#a8a8a8" stroke-width="1.84"/><line x1="815.7" y1="169.9" x2="811.2" y2="178.9" stroke="#a8a8a8" stroke-width="1.84"/><line x1="719.1" y1="191.1" x2="729.0" y2="191.2" stroke="#a8a8a8" stroke-width="1.84"/><line x1="719.1" y1="191.1" x2="714.6" y2="199.6" stroke="#a8a8a8" stroke-width="1.84"/><line x1="782.7" y1="191.2" x2="793.0" y2="190.6" stroke="#a8a8a8" stroke-width="1.84"/><line x1="782.7" y1="191.2" x2="778.1" y2="199.9" stroke="#a8a8a8" stroke-width="1.84"/><line x1="751.5" y1="210.5" x2="761.0" y2="210.5" stroke="#a8a8a8" stroke-width="1.84"/><line x1="816.0" y1="209.0" x2="825.6" y2="209.4" stroke="#a8a8a8" stroke-width="1.84"/><line x1="720.1" y1="41.6" x2="740.1" y2="41.6" stroke="#fff" stroke-width="1.01" opacity="0.85"/><line x1="740.1" y1="41.6" x2="752.0" y2="59.2" stroke="#fff" stroke-width="1.01" opacity="0.85"/><line x1="709.4" y1="59.8" x2="719.8" y2="78.6" stroke="#fff" stroke-width="1.01" opacity="0.85"/><line x1="752.0" y1="59.2" x2="772.7" y2="59.5" stroke="#fff" stroke-width="1.01" opacity="0.85"/><line x1="772.7" y1="59.5" x2="783.4" y2="77.1" stroke="#fff" stroke-width="1.01" opacity="0.85"/><line x1="742.0" y1="77.6" x2="753.3" y2="96.2" stroke="#fff" stroke-width="1.01" opacity="0.85"/><line x1="806.6" y1="76.7" x2="817.7" y2="97.4" stroke="#fff" stroke-width="1.01" opacity="0.85"/><line x1="710.3" y1="97.4" x2="722.0" y2="115.3" stroke="#fff" stroke-width="1.01" opacity="0.85"/><line x1="837.3" y1="97.2" x2="848.4" y2="115.7" stroke="#fff" stroke-width="1.01" opacity="0.85"/><line x1="710.0" y1="134.1" x2="720.7" y2="155.0" stroke="#fff" stroke-width="1.01" opacity="0.85"/><line x1="837.3" y1="133.6" x2="848.2" y2="153.7" stroke="#fff" stroke-width="1.01" opacity="0.85"/><line x1="741.1" y1="155.0" x2="751.4" y2="173.5" stroke="#fff" stroke-width="1.01" opacity="0.85"/><line x1="804.8" y1="151.4" x2="815.7" y2="169.9" stroke="#fff" stroke-width="1.01" opacity="0.85"/><line x1="709.6" y1="172.0" x2="719.1" y2="191.1" stroke="#fff" stroke-width="1.01" opacity="0.85"/><line x1="751.4" y1="173.5" x2="772.4" y2="174.3" stroke="#fff" stroke-width="1.01" opacity="0.85"/><line x1="772.4" y1="174.3" x2="782.7" y2="191.2" stroke="#fff" stroke-width="1.01" opacity="0.85"/><line x1="815.7" y1="169.9" x2="836.7" y2="170.2" stroke="#fff" stroke-width="1.01" opacity="0.85"/><line x1="741.1" y1="191.4" x2="751.5" y2="210.5" stroke="#fff" stroke-width="1.01" opacity="0.85"/><line x1="805.6" y1="189.9" x2="816.0" y2="209.0" stroke="#fff" stroke-width="1.01" opacity="0.85"/><line x1="793.3" y1="117.8" x2="816.0" y2="133.2" stroke="#fff" stroke-width="1.01" opacity="0.85"/></g>

<circle cx="720.1" cy="41.6" r="6.0" fill="url(#gC)"/>
<circle cx="720.8" cy="41.3" r="1.00" fill="#fff"/>
<circle cx="717.4" cy="44.8" r="0.71" fill="#fff" opacity="0.9"/>
<circle cx="740.1" cy="41.6" r="5.7" fill="url(#gN)"/>
<circle cx="740.7" cy="41.3" r="0.95" fill="#fff"/>
<circle cx="737.6" cy="44.7" r="0.68" fill="#fff" opacity="0.9"/>
<circle cx="709.4" cy="59.8" r="5.7" fill="url(#gN)"/>
<circle cx="710.0" cy="59.5" r="0.95" fill="#fff"/>
<circle cx="706.9" cy="62.9" r="0.68" fill="#fff" opacity="0.9"/>
<circle cx="752.0" cy="59.2" r="6.0" fill="url(#gC)"/>
<circle cx="752.7" cy="58.9" r="1.00" fill="#fff"/>
<circle cx="749.3" cy="62.4" r="0.71" fill="#fff" opacity="0.9"/>
<circle cx="772.7" cy="59.5" r="5.7" fill="url(#gN)"/>
<circle cx="773.3" cy="59.2" r="0.95" fill="#fff"/>
<circle cx="770.2" cy="62.6" r="0.68" fill="#fff" opacity="0.9"/>
<circle cx="817.7" cy="57.6" r="6.0" fill="url(#gC)"/>
<circle cx="818.4" cy="57.3" r="1.00" fill="#fff"/>
<circle cx="815.0" cy="60.8" r="0.71" fill="#fff" opacity="0.9"/>
<circle cx="719.8" cy="78.6" r="6.0" fill="url(#gC)"/>
<circle cx="720.5" cy="78.3" r="1.00" fill="#fff"/>
<circle cx="717.1" cy="81.8" r="0.71" fill="#fff" opacity="0.9"/>
<circle cx="742.0" cy="77.6" r="5.7" fill="url(#gN)"/>
<circle cx="742.6" cy="77.3" r="0.95" fill="#fff"/>
<circle cx="739.5" cy="80.7" r="0.68" fill="#fff" opacity="0.9"/>
<circle cx="783.4" cy="77.1" r="6.0" fill="url(#gC)"/>
<circle cx="784.1" cy="76.8" r="1.00" fill="#fff"/>
<circle cx="780.7" cy="80.3" r="0.71" fill="#fff" opacity="0.9"/>
<circle cx="806.6" cy="76.7" r="5.7" fill="url(#gN)"/>
<circle cx="807.2" cy="76.4" r="0.95" fill="#fff"/>
<circle cx="804.1" cy="79.8" r="0.68" fill="#fff" opacity="0.9"/>
<circle cx="710.3" cy="97.4" r="5.7" fill="url(#gN)"/>
<circle cx="710.9" cy="97.1" r="0.95" fill="#fff"/>
<circle cx="707.8" cy="100.5" r="0.68" fill="#fff" opacity="0.9"/>
<circle cx="753.3" cy="96.2" r="6.0" fill="url(#gC)"/>
<circle cx="754.0" cy="95.9" r="1.00" fill="#fff"/>
<circle cx="750.6" cy="99.4" r="0.71" fill="#fff" opacity="0.9"/>
<circle cx="774.4" cy="94.3" r="5.7" fill="url(#gN)"/>
<circle cx="775.0" cy="94.0" r="0.95" fill="#fff"/>
<circle cx="771.9" cy="97.4" r="0.68" fill="#fff" opacity="0.9"/>
<circle cx="817.7" cy="97.4" r="6.0" fill="url(#gC)"/>
<circle cx="818.4" cy="97.1" r="1.00" fill="#fff"/>
<circle cx="815.0" cy="100.6" r="0.71" fill="#fff" opacity="0.9"/>
<circle cx="837.3" cy="97.2" r="5.7" fill="url(#gN)"/>
<circle cx="837.9" cy="96.9" r="0.95" fill="#fff"/>
<circle cx="834.8" cy="100.3" r="0.68" fill="#fff" opacity="0.9"/>
<circle cx="722.0" cy="115.3" r="6.0" fill="url(#gC)"/>
<circle cx="722.7" cy="115.0" r="1.00" fill="#fff"/>
<circle cx="719.3" cy="118.5" r="0.71" fill="#fff" opacity="0.9"/>
<circle cx="743.9" cy="115.0" r="5.7" fill="url(#gN)"/>
<circle cx="744.5" cy="114.7" r="0.95" fill="#fff"/>
<circle cx="741.4" cy="118.1" r="0.68" fill="#fff" opacity="0.9"/>
<circle cx="848.4" cy="115.7" r="6.0" fill="url(#gC)"/>
<circle cx="849.1" cy="115.4" r="1.00" fill="#fff"/>
<circle cx="845.7" cy="118.9" r="0.71" fill="#fff" opacity="0.9"/>
<circle cx="686.0" cy="134.1" r="6.0" fill="url(#gC)"/>
<circle cx="686.7" cy="133.8" r="1.00" fill="#fff"/>
<circle cx="683.3" cy="137.3" r="0.71" fill="#fff" opacity="0.9"/>
<circle cx="710.0" cy="134.1" r="5.7" fill="url(#gN)"/>
<circle cx="710.6" cy="133.8" r="0.95" fill="#fff"/>
<circle cx="707.5" cy="137.2" r="0.68" fill="#fff" opacity="0.9"/>
<circle cx="816.0" cy="133.2" r="6.0" fill="url(#gC)"/>
<circle cx="816.7" cy="132.9" r="1.00" fill="#fff"/>
<circle cx="813.3" cy="136.4" r="0.71" fill="#fff" opacity="0.9"/>
<circle cx="837.3" cy="133.6" r="5.7" fill="url(#gN)"/>
<circle cx="837.9" cy="133.3" r="0.95" fill="#fff"/>
<circle cx="834.8" cy="136.7" r="0.68" fill="#fff" opacity="0.9"/>
<circle cx="720.7" cy="155.0" r="6.0" fill="url(#gC)"/>
<circle cx="721.4" cy="154.7" r="1.00" fill="#fff"/>
<circle cx="718.0" cy="158.2" r="0.71" fill="#fff" opacity="0.9"/>
<circle cx="741.1" cy="155.0" r="5.7" fill="url(#gN)"/>
<circle cx="741.7" cy="154.7" r="0.95" fill="#fff"/>
<circle cx="738.6" cy="158.1" r="0.68" fill="#fff" opacity="0.9"/>
<circle cx="804.8" cy="151.4" r="5.7" fill="url(#gN)"/>
<circle cx="805.4" cy="151.1" r="0.95" fill="#fff"/>
<circle cx="802.3" cy="154.5" r="0.68" fill="#fff" opacity="0.9"/>
<circle cx="848.2" cy="153.7" r="6.0" fill="url(#gC)"/>
<circle cx="848.9" cy="153.4" r="1.00" fill="#fff"/>
<circle cx="845.5" cy="156.9" r="0.71" fill="#fff" opacity="0.9"/>
<circle cx="709.6" cy="172.0" r="5.7" fill="url(#gN)"/>
<circle cx="710.2" cy="171.7" r="0.95" fill="#fff"/>
<circle cx="707.1" cy="175.1" r="0.68" fill="#fff" opacity="0.9"/>
<circle cx="751.4" cy="173.5" r="6.0" fill="url(#gC)"/>
<circle cx="752.1" cy="173.2" r="1.00" fill="#fff"/>
<circle cx="748.7" cy="176.7" r="0.71" fill="#fff" opacity="0.9"/>
<circle cx="772.4" cy="174.3" r="5.7" fill="url(#gN)"/>
<circle cx="773.0" cy="174.0" r="0.95" fill="#fff"/>
<circle cx="769.9" cy="177.4" r="0.68" fill="#fff" opacity="0.9"/>
<circle cx="815.7" cy="169.9" r="6.0" fill="url(#gC)"/>
<circle cx="816.4" cy="169.6" r="1.00" fill="#fff"/>
<circle cx="813.0" cy="173.1" r="0.71" fill="#fff" opacity="0.9"/>
<circle cx="836.7" cy="170.2" r="5.7" fill="url(#gN)"/>
<circle cx="837.3" cy="169.9" r="0.95" fill="#fff"/>
<circle cx="834.2" cy="173.3" r="0.68" fill="#fff" opacity="0.9"/>
<circle cx="719.1" cy="191.1" r="6.0" fill="url(#gC)"/>
<circle cx="719.8" cy="190.8" r="1.00" fill="#fff"/>
<circle cx="716.4" cy="194.3" r="0.71" fill="#fff" opacity="0.9"/>
<circle cx="741.1" cy="191.4" r="5.7" fill="url(#gN)"/>
<circle cx="741.7" cy="191.1" r="0.95" fill="#fff"/>
<circle cx="738.6" cy="194.5" r="0.68" fill="#fff" opacity="0.9"/>
<circle cx="782.7" cy="191.2" r="6.0" fill="url(#gC)"/>
<circle cx="783.4" cy="190.9" r="1.00" fill="#fff"/>
<circle cx="780.0" cy="194.4" r="0.71" fill="#fff" opacity="0.9"/>
<circle cx="805.6" cy="189.9" r="5.7" fill="url(#gN)"/>
<circle cx="806.2" cy="189.6" r="0.95" fill="#fff"/>
<circle cx="803.1" cy="193.0" r="0.68" fill="#fff" opacity="0.9"/>
<circle cx="709.0" cy="210.0" r="5.7" fill="url(#gN)"/>
<circle cx="709.6" cy="209.7" r="0.95" fill="#fff"/>
<circle cx="706.5" cy="213.1" r="0.68" fill="#fff" opacity="0.9"/>
<circle cx="751.5" cy="210.5" r="6.0" fill="url(#gC)"/>
<circle cx="752.2" cy="210.2" r="1.00" fill="#fff"/>
<circle cx="748.8" cy="213.7" r="0.71" fill="#fff" opacity="0.9"/>
<circle cx="772.5" cy="210.5" r="5.7" fill="url(#gN)"/>
<circle cx="773.1" cy="210.2" r="0.95" fill="#fff"/>
<circle cx="770.0" cy="213.6" r="0.68" fill="#fff" opacity="0.9"/>
<circle cx="816.0" cy="209.0" r="6.0" fill="url(#gC)"/>
<circle cx="816.7" cy="208.7" r="1.00" fill="#fff"/>
<circle cx="813.3" cy="212.2" r="0.71" fill="#fff" opacity="0.9"/>
<circle cx="837.3" cy="210.0" r="5.7" fill="url(#gN)"/>
<circle cx="837.9" cy="209.7" r="0.95" fill="#fff"/>
<circle cx="834.8" cy="213.1" r="0.68" fill="#fff" opacity="0.9"/>
<circle cx="793.3" cy="117.8" r="9.3" fill="url(#gU)"/>
<circle cx="794.3" cy="117.4" r="1.55" fill="#fff"/>
<circle cx="789.2" cy="122.8" r="1.11" fill="#fff" opacity="0.9"/>
<circle cx="762.3" cy="141.1" r="9.3" fill="url(#gU)"/>
<circle cx="763.3" cy="140.7" r="1.55" fill="#fff"/>
<circle cx="758.2" cy="146.1" r="1.11" fill="#fff" opacity="0.9"/>
<g stroke="#fa1414" fill="#fa1414"><line x1="762.3" y1="141.1" x2="793.3" y2="117.8" stroke-width="1.2"/><polygon points="762.7,140.8 771.3,138.0 767.8,133.3" stroke="none"/><polygon points="792.9,118.1 784.3,120.9 787.8,125.6" stroke="none"/><line x1="787.9" y1="110.6" x2="798.7" y2="125.0" stroke-width="0.8" stroke-dasharray="2.4 1.6"/><line x1="756.9" y1="133.9" x2="767.7" y2="148.3" stroke-width="0.8" stroke-dasharray="2.4 1.6"/></g>
</g></g>
<text transform="translate(762.0,131.2) rotate(-36.9)" font-size="16.2" font-weight="bold" fill="#fa1414" stroke="#fa1414" stroke-width="0.5" textLength="28.8" lengthAdjust="spacingAndGlyphs">2.5Å</text>
<text x="21.5" y="26.9" font-size="24.4" font-weight="bold" text-anchor="start" fill="#000" textLength="16.8" lengthAdjust="spacingAndGlyphs" stroke="#000" stroke-width="0.5" stroke-linejoin="round">A</text>
<text x="475.9" y="26.9" font-size="23.9" font-weight="bold" text-anchor="start" fill="#000" textLength="14.6" lengthAdjust="spacingAndGlyphs" stroke="#000" stroke-width="0.5" stroke-linejoin="round">B</text>
<text x="29.6" y="275.2" font-size="23.3" font-weight="bold" text-anchor="start" fill="#000" textLength="14.4" lengthAdjust="spacingAndGlyphs" stroke="#000" stroke-width="0.5" stroke-linejoin="round">C</text>
<text x="485.1" y="283.0" font-size="23.3" font-weight="bold" text-anchor="start" fill="#000" textLength="16.2" lengthAdjust="spacingAndGlyphs" stroke="#000" stroke-width="0.5" stroke-linejoin="round">D</text>
<text x="168.0" y="109.9" font-size="24.3" font-weight="bold" text-anchor="start" fill="#000" textLength="41.3" lengthAdjust="spacingAndGlyphs" stroke="#000" stroke-width="0.5" stroke-linejoin="round">620</text>
<text x="216.5" y="102.0" font-size="16.5" font-weight="bold" text-anchor="start" fill="#000" textLength="11.0" lengthAdjust="spacingAndGlyphs" stroke="#000" stroke-width="0.4" stroke-linejoin="round">o</text>
<text x="227.6" y="109.9" font-size="24.0" font-weight="bold" text-anchor="start" fill="#000" textLength="13.7" lengthAdjust="spacingAndGlyphs" stroke="#000" stroke-width="0.5" stroke-linejoin="round">C</text>
<rect x="175" y="118.3" width="39.5" height="5" fill="#000"/><polygon points="213.6,113.9 228.2,120.8 213.6,127.8" fill="#000"/>
<text x="185.8" y="151.8" font-size="24.0" font-weight="bold" text-anchor="start" fill="#000" textLength="15.8" lengthAdjust="spacingAndGlyphs" stroke="#000" stroke-width="0.5" stroke-linejoin="round">N</text>
<text x="202.2" y="158.3" font-size="15.6" font-weight="bold" text-anchor="start" fill="#000" textLength="9.2" lengthAdjust="spacingAndGlyphs" stroke="#000" stroke-width="0.4" stroke-linejoin="round">2</text>
<polygon points="639.8,39 657,48.5 650.1,63.2 646.4,61.6 642.7,77.6 639.1,76 629.4,98.3 629.4,70.7 633.8,73.2 634.1,55.1 639.8,58.2" fill="#ffc000" stroke="#f2ab00" stroke-width="0.8" stroke-linejoin="miter"/>
<rect x="630.7" y="107.7" width="39.5" height="5" fill="#000"/><polygon points="669.5,102.9 683.6,110.2 669.5,117.5" fill="#000"/>
<g filter="url(#soft)">
<circle cx="291.0" cy="232.0" r="5.8" fill="url(#gN)"/><circle cx="291.6" cy="231.7" r="0.9" fill="#fff"/>
<circle cx="376.8" cy="231.0" r="5.8" fill="url(#gC)"/><circle cx="377.4" cy="230.7" r="0.9" fill="#fff"/>
<circle cx="440.0" cy="232.6" r="7.3" fill="none" stroke="#1a1af5" stroke-width="3.6" stroke-dasharray="3.5 3.053"/>
<circle cx="579.1" cy="230.6" r="9.3" fill="url(#gU)"/><circle cx="580.1" cy="230.2" r="1.5" fill="#fff"/><circle cx="575.0" cy="235.6" r="1.0" fill="#fff" opacity="0.9"/>
</g>
<text x="307.8" y="239.2" font-size="19.2" font-weight="bold" text-anchor="start" fill="#000" textLength="14.1" lengthAdjust="spacingAndGlyphs" stroke="#000" stroke-width="0.4" stroke-linejoin="round">N</text>
<text x="397.0" y="239.2" font-size="19.2" font-weight="bold" text-anchor="start" fill="#000" textLength="11.5" lengthAdjust="spacingAndGlyphs" stroke="#000" stroke-width="0.4" stroke-linejoin="round">C</text>
<text x="467.9" y="239.2" font-size="19.2" font-weight="bold" text-anchor="start" fill="#000" textLength="71.2" lengthAdjust="spacingAndGlyphs" stroke="#000" stroke-width="0.4" stroke-linejoin="round">N defect</text>
<text x="602.1" y="239.2" font-size="19.2" font-weight="bold" text-anchor="start" fill="#000" textLength="21.3" lengthAdjust="spacingAndGlyphs" stroke="#000" stroke-width="0.4" stroke-linejoin="round">Cu</text>
<g>
<rect x="76.8" y="563.7" width="27.4" height="10.3" fill="#ff8181" stroke="#f67272" stroke-width="0.7"/>
<rect x="184.6" y="505.4" width="27.4" height="68.6" fill="#ff8181" stroke="#f67272" stroke-width="0.7"/>
<rect x="238.6" y="494.8" width="27.4" height="79.2" fill="#ff8181" stroke="#f67272" stroke-width="0.7"/>
<rect x="292.3" y="388.0" width="27.4" height="186.0" fill="#ff8181" stroke="#f67272" stroke-width="0.7"/>
<rect x="346.1" y="309.4" width="27.4" height="264.6" fill="#ff8181" stroke="#f67272" stroke-width="0.7"/>
<g stroke="#ababab" stroke-width="1.4" fill="none"><line x1="198.3" y1="503.3" x2="198.3" y2="508.3"/><line x1="192.3" y1="503.3" x2="204.3" y2="503.3"/><line x1="192.3" y1="508.3" x2="204.3" y2="508.3"/></g>
<g stroke="#ababab" stroke-width="1.4" fill="none"><line x1="305.9" y1="381.8" x2="305.9" y2="394.2"/><line x1="299.9" y1="381.8" x2="311.9" y2="381.8"/><line x1="299.9" y1="394.2" x2="311.9" y2="394.2"/></g>
<g stroke="#ababab" stroke-width="1.4" fill="none"><line x1="359.7" y1="301.3" x2="359.7" y2="317.3"/><line x1="353.7" y1="301.3" x2="365.7" y2="301.3"/><line x1="353.7" y1="317.3" x2="365.7" y2="317.3"/></g>
<clipPath id="cpC"><rect x="64.2" y="286.7" width="322.3" height="287.3"/></clipPath>
<g clip-path="url(#cpC)">
<circle cx="144.0" cy="571.2" r="11.8" fill="#0c7a7a"/><circle cx="141.0" cy="568.6" r="5.0" fill="url(#hl)"/>
<circle cx="198.0" cy="462.7" r="11.8" fill="#0c7a7a"/><circle cx="195.0" cy="460.1" r="5.0" fill="url(#hl)"/>
<g stroke="#efdcdc" stroke-width="1.5" fill="none"><line x1="198.3" y1="452.1" x2="198.3" y2="458.6"/><line x1="192.4" y1="458.6" x2="204.3" y2="458.6"/><line x1="191.7" y1="467.1" x2="204.3" y2="467.1"/><line x1="198.3" y1="467.1" x2="198.3" y2="473.3"/></g>
<circle cx="251.8" cy="500.8" r="11.8" fill="#0c7a7a"/><circle cx="248.8" cy="498.2" r="5.0" fill="url(#hl)"/>
<g stroke="#efdcdc" stroke-width="1.5" fill="none"><line x1="252.1" y1="490.2" x2="252.1" y2="496.7"/><line x1="246.2" y1="496.7" x2="258.1" y2="496.7"/><line x1="245.5" y1="505.2" x2="258.1" y2="505.2"/><line x1="252.1" y1="505.2" x2="252.1" y2="511.4"/></g>
<circle cx="305.7" cy="337.6" r="11.8" fill="#0c7a7a"/><circle cx="302.7" cy="335.0" r="5.0" fill="url(#hl)"/>
<g stroke="#efdcdc" stroke-width="1.5" fill="none"><line x1="306.0" y1="327.0" x2="306.0" y2="333.5"/><line x1="300.1" y1="333.5" x2="312.0" y2="333.5"/><line x1="299.4" y1="342.0" x2="312.0" y2="342.0"/><line x1="306.0" y1="342.0" x2="306.0" y2="348.2"/></g>
<circle cx="359.6" cy="396.5" r="11.8" fill="#0c7a7a"/><circle cx="356.6" cy="393.9" r="5.0" fill="url(#hl)"/>
<g stroke="#efdcdc" stroke-width="1.5" fill="none"><line x1="359.9" y1="385.9" x2="359.9" y2="392.4"/><line x1="354.0" y1="392.4" x2="365.9" y2="392.4"/><line x1="353.3" y1="400.9" x2="365.9" y2="400.9"/><line x1="359.9" y1="400.9" x2="359.9" y2="407.1"/></g>
</g>
<rect x="78.2" y="292.2" width="39.3" height="19.8" fill="#ff8181"/>
<text x="122.4" y="307.8" font-size="17.3" font-weight="normal" text-anchor="start" fill="#000" textLength="117.8" lengthAdjust="spacingAndGlyphs">C1 oxygenates</text>
<rect x="64.2" y="286.7" width="322.3" height="287.3" fill="none" stroke="#000" stroke-width="1.9"/>
<text x="57.3" y="579.3" font-size="15.9" font-weight="bold" text-anchor="end" fill="#000" stroke="#000" stroke-width="0.3" stroke-linejoin="round">0</text>
<text x="57.3" y="525.1" font-size="15.9" font-weight="bold" text-anchor="end" fill="#000" stroke="#000" stroke-width="0.3" stroke-linejoin="round">1E3</text>
<text x="57.3" y="470.9" font-size="15.9" font-weight="bold" text-anchor="end" fill="#000" stroke="#000" stroke-width="0.3" stroke-linejoin="round">2E3</text>
<text x="57.3" y="416.7" font-size="15.9" font-weight="bold" text-anchor="end" fill="#000" stroke="#000" stroke-width="0.3" stroke-linejoin="round">3E3</text>
<text x="57.3" y="362.5" font-size="15.9" font-weight="bold" text-anchor="end" fill="#000" stroke="#000" stroke-width="0.3" stroke-linejoin="round">4E3</text>
<text x="57.3" y="308.3" font-size="15.9" font-weight="bold" text-anchor="end" fill="#000" stroke="#000" stroke-width="0.3" stroke-linejoin="round">5E3</text>
<text x="393.4" y="579.3" font-size="15.9" font-weight="bold" text-anchor="start" fill="#000" stroke="#000" stroke-width="0.3" stroke-linejoin="round">0</text>
<text x="393.4" y="515.4" font-size="15.9" font-weight="bold" text-anchor="start" fill="#000" stroke="#000" stroke-width="0.3" stroke-linejoin="round">30</text>
<text x="393.4" y="451.5" font-size="15.9" font-weight="bold" text-anchor="start" fill="#000" stroke="#000" stroke-width="0.3" stroke-linejoin="round">60</text>
<text x="393.4" y="387.6" font-size="15.9" font-weight="bold" text-anchor="start" fill="#000" stroke="#000" stroke-width="0.3" stroke-linejoin="round">90</text>
<text x="393.4" y="323.7" font-size="15.9" font-weight="bold" text-anchor="start" fill="#000" stroke="#000" stroke-width="0.3" stroke-linejoin="round">120</text>
<g stroke="#000" stroke-width="1.5"><line x1="64.2" y1="546.9" x2="68.10000000000001" y2="546.9"/><line x1="64.2" y1="519.8" x2="71.0" y2="519.8"/><line x1="64.2" y1="492.7" x2="68.10000000000001" y2="492.7"/><line x1="64.2" y1="465.6" x2="71.0" y2="465.6"/><line x1="64.2" y1="438.5" x2="68.10000000000001" y2="438.5"/><line x1="64.2" y1="411.4" x2="71.0" y2="411.4"/><line x1="64.2" y1="384.3" x2="68.10000000000001" y2="384.3"/><line x1="64.2" y1="357.2" x2="71.0" y2="357.2"/><line x1="64.2" y1="330.1" x2="68.10000000000001" y2="330.1"/><line x1="64.2" y1="303.0" x2="71.0" y2="303.0"/><line x1="386.5" y1="542.0" x2="382.6" y2="542.0"/><line x1="386.5" y1="510.1" x2="379.7" y2="510.1"/><line x1="386.5" y1="478.2" x2="382.6" y2="478.2"/><line x1="386.5" y1="446.2" x2="379.7" y2="446.2"/><line x1="386.5" y1="414.2" x2="382.6" y2="414.2"/><line x1="386.5" y1="382.3" x2="379.7" y2="382.3"/><line x1="386.5" y1="350.4" x2="382.6" y2="350.4"/><line x1="386.5" y1="318.4" x2="379.7" y2="318.4"/><line x1="90.5" y1="574.0" x2="90.5" y2="570.0"/><line x1="144.3" y1="574.0" x2="144.3" y2="570.0"/><line x1="198.2" y1="574.0" x2="198.2" y2="570.0"/><line x1="252.1" y1="574.0" x2="252.1" y2="570.0"/><line x1="305.9" y1="574.0" x2="305.9" y2="570.0"/><line x1="359.8" y1="574.0" x2="359.8" y2="570.0"/></g>
<line x1="209" y1="463.2" x2="222" y2="463.2" stroke="#000" stroke-width="1.6"/><polygon points="229.8,463.2 217.3,459.6 217.3,466.8" fill="#000"/>
<line x1="278" y1="432.6" x2="292" y2="432.6" stroke="#000" stroke-width="1.6"/><polygon points="270.6,432.6 283.1,429.0 283.1,436.2" fill="#000"/>
<text transform="translate(20.4,499.6) rotate(-90)" font-size="18.3" font-weight="bold" textLength="141.8" lengthAdjust="spacingAndGlyphs">STY (<tspan font-weight="normal">μ</tspan>mol g<tspan font-size="11.5" dy="-9.4">-1</tspan><tspan dy="9.4"> h</tspan><tspan font-size="11.5" dy="-9.4">-1</tspan><tspan dy="9.4">)</tspan></text>
<text transform="translate(428.3,460.8) rotate(-90)" font-size="18.3" font-weight="bold" textLength="71.4" lengthAdjust="spacingAndGlyphs">TOF (h<tspan font-size="11.5" dy="-9.4">-1</tspan><tspan dy="9.4">)</tspan></text>
<text transform="translate(114.1,587.6) rotate(-29.8)" font-size="15.85" font-weight="bold" text-anchor="end">C<tspan font-size="10.2" dy="5.0">3</tspan><tspan dy="-5.0">N</tspan><tspan font-size="10.2" dy="5.0">4</tspan><tspan dy="-5.0">-D1</tspan></text>
<text transform="translate(112.6,620.8) rotate(-29.8)" font-size="15.85" font-weight="bold" text-anchor="start">Cu(NO<tspan font-size="10.2" dy="5.0">3</tspan><tspan dy="-5.0">)</tspan><tspan font-size="10.2" dy="5.0">2</tspan></text>
<text transform="translate(234.9,586.1) rotate(-29.8)" font-size="15.85" font-weight="bold" text-anchor="end">Cu<tspan font-size="10.2" dy="5.0">1</tspan><tspan dy="-5.0">@C</tspan><tspan font-size="10.2" dy="5.0">3</tspan><tspan dy="-5.0">N</tspan><tspan font-size="10.2" dy="5.0">4</tspan><tspan dy="-5.0">-D1</tspan></text>
<text transform="translate(289.4,587.4) rotate(-29.8)" font-size="15.85" font-weight="bold" text-anchor="end">Cu<tspan font-size="10.2" dy="5.0">1</tspan><tspan dy="-5.0">@C</tspan><tspan font-size="10.2" dy="5.0">3</tspan><tspan dy="-5.0">N</tspan><tspan font-size="10.2" dy="5.0">4</tspan><tspan dy="-5.0">-D2</tspan></text>
<text transform="translate(346.1,586.3) rotate(-29.8)" font-size="15.85" font-weight="bold" text-anchor="end">Cu<tspan font-size="10.2" dy="5.0">2</tspan><tspan dy="-5.0">@C</tspan><tspan font-size="10.2" dy="5.0">3</tspan><tspan dy="-5.0">N</tspan><tspan font-size="10.2" dy="5.0">4</tspan><tspan dy="-5.0">-D1</tspan></text>
<text transform="translate(408.0,587.6) rotate(-29.8)" font-size="15.85" font-weight="bold" text-anchor="end">Cu<tspan font-size="10.2" dy="5.0">2</tspan><tspan dy="-5.0">@C</tspan><tspan font-size="10.2" dy="5.0">3</tspan><tspan dy="-5.0">N</tspan><tspan font-size="10.2" dy="5.0">4</tspan><tspan dy="-5.0">-D2</tspan></text>
</g>
<rect x="526.0" y="288.5" width="161.4" height="288.5" fill="#ddebf7"/>
<rect x="687.4" y="288.5" width="159.6" height="288.5" fill="#fff2cc"/>
<rect x="526.0" y="288.5" width="322.2" height="288.5" fill="none" stroke="#000" stroke-width="2"/>
<text x="518.9" y="581.7" font-size="15.9" font-weight="bold" text-anchor="end" fill="#000" stroke="#000" stroke-width="0.3" stroke-linejoin="round">0</text>
<text x="518.9" y="515.3" font-size="15.9" font-weight="bold" text-anchor="end" fill="#000" stroke="#000" stroke-width="0.3" stroke-linejoin="round">30</text>
<text x="518.9" y="448.9" font-size="15.9" font-weight="bold" text-anchor="end" fill="#000" stroke="#000" stroke-width="0.3" stroke-linejoin="round">60</text>
<text x="518.9" y="382.5" font-size="15.9" font-weight="bold" text-anchor="end" fill="#000" stroke="#000" stroke-width="0.3" stroke-linejoin="round">90</text>
<text x="518.9" y="316.1" font-size="15.9" font-weight="bold" text-anchor="end" fill="#000" stroke="#000" stroke-width="0.3" stroke-linejoin="round">120</text>
<text x="541.8" y="595.2" font-size="15.9" font-weight="bold" text-anchor="middle" fill="#000" stroke="#000" stroke-width="0.3" stroke-linejoin="round">1</text>
<text x="574.0" y="595.2" font-size="15.9" font-weight="bold" text-anchor="middle" fill="#000" stroke="#000" stroke-width="0.3" stroke-linejoin="round">2</text>
<text x="606.2" y="595.2" font-size="15.9" font-weight="bold" text-anchor="middle" fill="#000" stroke="#000" stroke-width="0.3" stroke-linejoin="round">3</text>
<text x="638.4" y="595.2" font-size="15.9" font-weight="bold" text-anchor="middle" fill="#000" stroke="#000" stroke-width="0.3" stroke-linejoin="round">4</text>
<text x="670.6" y="595.2" font-size="15.9" font-weight="bold" text-anchor="middle" fill="#000" stroke="#000" stroke-width="0.3" stroke-linejoin="round">5</text>
<text x="702.8" y="595.2" font-size="15.9" font-weight="bold" text-anchor="middle" fill="#000" stroke="#000" stroke-width="0.3" stroke-linejoin="round">1</text>
<text x="735.0" y="595.2" font-size="15.9" font-weight="bold" text-anchor="middle" fill="#000" stroke="#000" stroke-width="0.3" stroke-linejoin="round">2</text>
<text x="767.2" y="595.2" font-size="15.9" font-weight="bold" text-anchor="middle" fill="#000" stroke="#000" stroke-width="0.3" stroke-linejoin="round">3</text>
<text x="799.4" y="595.2" font-size="15.9" font-weight="bold" text-anchor="middle" fill="#000" stroke="#000" stroke-width="0.3" stroke-linejoin="round">4</text>
<text x="831.6" y="595.2" font-size="15.9" font-weight="bold" text-anchor="middle" fill="#000" stroke="#000" stroke-width="0.3" stroke-linejoin="round">5</text>
<g stroke="#000" stroke-width="1.6"><line x1="526.0" y1="576.6" x2="532.5" y2="576.6"/><line x1="526.0" y1="543.4" x2="529.5" y2="543.4"/><line x1="526.0" y1="510.2" x2="532.5" y2="510.2"/><line x1="526.0" y1="477.0" x2="529.5" y2="477.0"/><line x1="526.0" y1="443.8" x2="532.5" y2="443.8"/><line x1="526.0" y1="410.6" x2="529.5" y2="410.6"/><line x1="526.0" y1="377.4" x2="532.5" y2="377.4"/><line x1="526.0" y1="344.2" x2="529.5" y2="344.2"/><line x1="526.0" y1="311.0" x2="532.5" y2="311.0"/><line x1="541.8" y1="577.0" x2="541.8" y2="570.5"/><line x1="574.0" y1="577.0" x2="574.0" y2="570.5"/><line x1="606.2" y1="577.0" x2="606.2" y2="570.5"/><line x1="638.4" y1="577.0" x2="638.4" y2="570.5"/><line x1="670.6" y1="577.0" x2="670.6" y2="570.5"/><line x1="702.8" y1="577.0" x2="702.8" y2="570.5"/><line x1="735.0" y1="577.0" x2="735.0" y2="570.5"/><line x1="767.2" y1="577.0" x2="767.2" y2="570.5"/><line x1="799.4" y1="577.0" x2="799.4" y2="570.5"/><line x1="831.6" y1="577.0" x2="831.6" y2="570.5"/></g>
<text x="693.2" y="621.5" font-size="17.6" font-weight="bold" text-anchor="middle" fill="#000" textLength="122.6" lengthAdjust="spacingAndGlyphs" stroke="#000" stroke-width="0.25" stroke-linejoin="round">Reaction cycle</text>
<text transform="translate(484.3,459.9) rotate(-90)" font-size="18.3" font-weight="bold" textLength="71.2" lengthAdjust="spacingAndGlyphs">TOF (h<tspan font-size="11.5" dy="-9.4">-1</tspan><tspan dy="9.4">)</tspan></text>
<circle cx="541.8" cy="330.7" r="12.6" fill="#eaf6f6"/><circle cx="541.8" cy="330.7" r="11.9" fill="#fc7c0c"/><circle cx="538.6" cy="327.5" r="5.3" fill="url(#hl)"/>
<circle cx="574.1" cy="332.7" r="12.6" fill="#eaf6f6"/><circle cx="574.1" cy="332.7" r="11.9" fill="#fc7c0c"/><circle cx="570.9" cy="329.5" r="5.3" fill="url(#hl)"/>
<circle cx="606.2" cy="330.2" r="12.6" fill="#eaf6f6"/><circle cx="606.2" cy="330.2" r="11.9" fill="#fc7c0c"/><circle cx="603.0" cy="327.0" r="5.3" fill="url(#hl)"/>
<circle cx="638.3" cy="332.7" r="12.6" fill="#eaf6f6"/><circle cx="638.3" cy="332.7" r="11.9" fill="#fc7c0c"/><circle cx="635.1" cy="329.5" r="5.3" fill="url(#hl)"/>
<circle cx="671.1" cy="328.4" r="12.6" fill="#eaf6f6"/><circle cx="671.1" cy="328.4" r="11.9" fill="#fc7c0c"/><circle cx="667.9" cy="325.2" r="5.3" fill="url(#hl)"/>
<circle cx="703.1" cy="460.0" r="12.6" fill="#fff8e0"/><circle cx="703.1" cy="460.0" r="11.9" fill="#0a0a94"/><circle cx="699.9" cy="456.8" r="5.3" fill="url(#hl)"/>
<circle cx="735.4" cy="461.4" r="12.6" fill="#fff8e0"/><circle cx="735.4" cy="461.4" r="11.9" fill="#0a0a94"/><circle cx="732.2" cy="458.2" r="5.3" fill="url(#hl)"/>
<circle cx="767.7" cy="462.5" r="12.6" fill="#fff8e0"/><circle cx="767.7" cy="462.5" r="11.9" fill="#0a0a94"/><circle cx="764.5" cy="459.3" r="5.3" fill="url(#hl)"/>
<circle cx="799.6" cy="460.2" r="12.6" fill="#fff8e0"/><circle cx="799.6" cy="460.2" r="11.9" fill="#0a0a94"/><circle cx="796.4" cy="457.0" r="5.3" fill="url(#hl)"/>
<circle cx="832.0" cy="462.2" r="12.6" fill="#fff8e0"/><circle cx="832.0" cy="462.2" r="11.9" fill="#0a0a94"/><circle cx="828.8" cy="459.0" r="5.3" fill="url(#hl)"/>
<text x="546.4" y="366.2" font-size="18.6" font-weight="bold" stroke="#000" stroke-width="0.35" textLength="114.6" lengthAdjust="spacingAndGlyphs">Cu<tspan font-size="13.8" dy="5.0">2</tspan><tspan dy="-5.0">@C</tspan><tspan font-size="13.8" dy="5.0">3</tspan><tspan dy="-5.0">N</tspan><tspan font-size="13.8" dy="5.0">4</tspan><tspan dy="-5.0">-D1</tspan></text>
<text x="696.6" y="434.0" font-size="18.6" font-weight="bold" stroke="#000" stroke-width="0.35" textLength="114.6" lengthAdjust="spacingAndGlyphs">Cu<tspan font-size="13.8" dy="5.0">1</tspan><tspan dy="-5.0">@C</tspan><tspan font-size="13.8" dy="5.0">3</tspan><tspan dy="-5.0">N</tspan><tspan font-size="13.8" dy="5.0">4</tspan><tspan dy="-5.0">-D1</tspan></text>
</g>
</svg>
</body></html>
